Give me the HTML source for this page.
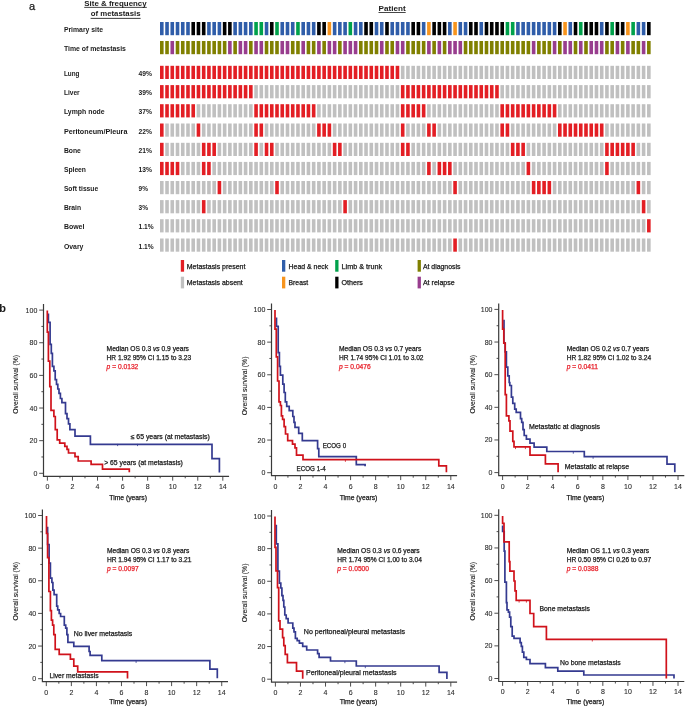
<!DOCTYPE html>
<html><head><meta charset="utf-8"><style>
html,body{margin:0;padding:0;background:#fff;}
svg{display:block;font-family:"Liberation Sans",sans-serif;will-change:transform;}
</style></head><body>
<svg width="685" height="706" viewBox="0 0 685 706">
<rect width="685" height="706" fill="#fff"/>
<g shape-rendering="auto"><rect x="160.00" y="22.00" width="3.6" height="13.2" fill="#2f5da9"/><rect x="165.24" y="22.00" width="3.6" height="13.2" fill="#2f5da9"/><rect x="170.47" y="22.00" width="3.6" height="13.2" fill="#2f5da9"/><rect x="175.71" y="22.00" width="3.6" height="13.2" fill="#2f5da9"/><rect x="180.95" y="22.00" width="3.6" height="13.2" fill="#2f5da9"/><rect x="186.19" y="22.00" width="3.6" height="13.2" fill="#2f5da9"/><rect x="191.42" y="22.00" width="3.6" height="13.2" fill="#000000"/><rect x="196.66" y="22.00" width="3.6" height="13.2" fill="#000000"/><rect x="201.90" y="22.00" width="3.6" height="13.2" fill="#000000"/><rect x="207.13" y="22.00" width="3.6" height="13.2" fill="#2f5da9"/><rect x="212.37" y="22.00" width="3.6" height="13.2" fill="#2f5da9"/><rect x="217.61" y="22.00" width="3.6" height="13.2" fill="#2f5da9"/><rect x="222.84" y="22.00" width="3.6" height="13.2" fill="#000000"/><rect x="228.08" y="22.00" width="3.6" height="13.2" fill="#000000"/><rect x="233.32" y="22.00" width="3.6" height="13.2" fill="#2f5da9"/><rect x="238.56" y="22.00" width="3.6" height="13.2" fill="#2f5da9"/><rect x="243.79" y="22.00" width="3.6" height="13.2" fill="#2f5da9"/><rect x="249.03" y="22.00" width="3.6" height="13.2" fill="#2f5da9"/><rect x="254.27" y="22.00" width="3.6" height="13.2" fill="#00a14b"/><rect x="259.50" y="22.00" width="3.6" height="13.2" fill="#00a14b"/><rect x="264.74" y="22.00" width="3.6" height="13.2" fill="#2f5da9"/><rect x="269.98" y="22.00" width="3.6" height="13.2" fill="#000000"/><rect x="275.21" y="22.00" width="3.6" height="13.2" fill="#00a14b"/><rect x="280.45" y="22.00" width="3.6" height="13.2" fill="#2f5da9"/><rect x="285.69" y="22.00" width="3.6" height="13.2" fill="#2f5da9"/><rect x="290.93" y="22.00" width="3.6" height="13.2" fill="#2f5da9"/><rect x="296.16" y="22.00" width="3.6" height="13.2" fill="#00a14b"/><rect x="301.40" y="22.00" width="3.6" height="13.2" fill="#2f5da9"/><rect x="306.64" y="22.00" width="3.6" height="13.2" fill="#2f5da9"/><rect x="311.87" y="22.00" width="3.6" height="13.2" fill="#2f5da9"/><rect x="317.11" y="22.00" width="3.6" height="13.2" fill="#000000"/><rect x="322.35" y="22.00" width="3.6" height="13.2" fill="#000000"/><rect x="327.58" y="22.00" width="3.6" height="13.2" fill="#f7941d"/><rect x="332.82" y="22.00" width="3.6" height="13.2" fill="#2f5da9"/><rect x="338.06" y="22.00" width="3.6" height="13.2" fill="#2f5da9"/><rect x="343.30" y="22.00" width="3.6" height="13.2" fill="#2f5da9"/><rect x="348.53" y="22.00" width="3.6" height="13.2" fill="#00a14b"/><rect x="353.77" y="22.00" width="3.6" height="13.2" fill="#2f5da9"/><rect x="359.01" y="22.00" width="3.6" height="13.2" fill="#2f5da9"/><rect x="364.24" y="22.00" width="3.6" height="13.2" fill="#000000"/><rect x="369.48" y="22.00" width="3.6" height="13.2" fill="#000000"/><rect x="374.72" y="22.00" width="3.6" height="13.2" fill="#2f5da9"/><rect x="379.95" y="22.00" width="3.6" height="13.2" fill="#2f5da9"/><rect x="385.19" y="22.00" width="3.6" height="13.2" fill="#000000"/><rect x="390.43" y="22.00" width="3.6" height="13.2" fill="#2f5da9"/><rect x="395.66" y="22.00" width="3.6" height="13.2" fill="#2f5da9"/><rect x="400.90" y="22.00" width="3.6" height="13.2" fill="#2f5da9"/><rect x="406.14" y="22.00" width="3.6" height="13.2" fill="#2f5da9"/><rect x="411.38" y="22.00" width="3.6" height="13.2" fill="#000000"/><rect x="416.61" y="22.00" width="3.6" height="13.2" fill="#000000"/><rect x="421.85" y="22.00" width="3.6" height="13.2" fill="#2f5da9"/><rect x="427.09" y="22.00" width="3.6" height="13.2" fill="#f7941d"/><rect x="432.32" y="22.00" width="3.6" height="13.2" fill="#000000"/><rect x="437.56" y="22.00" width="3.6" height="13.2" fill="#000000"/><rect x="442.80" y="22.00" width="3.6" height="13.2" fill="#000000"/><rect x="448.04" y="22.00" width="3.6" height="13.2" fill="#2f5da9"/><rect x="453.27" y="22.00" width="3.6" height="13.2" fill="#f7941d"/><rect x="458.51" y="22.00" width="3.6" height="13.2" fill="#2f5da9"/><rect x="463.75" y="22.00" width="3.6" height="13.2" fill="#2f5da9"/><rect x="468.98" y="22.00" width="3.6" height="13.2" fill="#000000"/><rect x="474.22" y="22.00" width="3.6" height="13.2" fill="#000000"/><rect x="479.46" y="22.00" width="3.6" height="13.2" fill="#2f5da9"/><rect x="484.69" y="22.00" width="3.6" height="13.2" fill="#000000"/><rect x="489.93" y="22.00" width="3.6" height="13.2" fill="#000000"/><rect x="495.17" y="22.00" width="3.6" height="13.2" fill="#000000"/><rect x="500.41" y="22.00" width="3.6" height="13.2" fill="#000000"/><rect x="505.64" y="22.00" width="3.6" height="13.2" fill="#00a14b"/><rect x="510.88" y="22.00" width="3.6" height="13.2" fill="#00a14b"/><rect x="516.12" y="22.00" width="3.6" height="13.2" fill="#2f5da9"/><rect x="521.35" y="22.00" width="3.6" height="13.2" fill="#2f5da9"/><rect x="526.59" y="22.00" width="3.6" height="13.2" fill="#2f5da9"/><rect x="531.83" y="22.00" width="3.6" height="13.2" fill="#2f5da9"/><rect x="537.06" y="22.00" width="3.6" height="13.2" fill="#2f5da9"/><rect x="542.30" y="22.00" width="3.6" height="13.2" fill="#2f5da9"/><rect x="547.54" y="22.00" width="3.6" height="13.2" fill="#2f5da9"/><rect x="552.78" y="22.00" width="3.6" height="13.2" fill="#2f5da9"/><rect x="558.01" y="22.00" width="3.6" height="13.2" fill="#000000"/><rect x="563.25" y="22.00" width="3.6" height="13.2" fill="#f7941d"/><rect x="568.49" y="22.00" width="3.6" height="13.2" fill="#2f5da9"/><rect x="573.72" y="22.00" width="3.6" height="13.2" fill="#000000"/><rect x="578.96" y="22.00" width="3.6" height="13.2" fill="#00a14b"/><rect x="584.20" y="22.00" width="3.6" height="13.2" fill="#000000"/><rect x="589.43" y="22.00" width="3.6" height="13.2" fill="#000000"/><rect x="594.67" y="22.00" width="3.6" height="13.2" fill="#000000"/><rect x="599.91" y="22.00" width="3.6" height="13.2" fill="#2f5da9"/><rect x="605.14" y="22.00" width="3.6" height="13.2" fill="#000000"/><rect x="610.38" y="22.00" width="3.6" height="13.2" fill="#00a14b"/><rect x="615.62" y="22.00" width="3.6" height="13.2" fill="#000000"/><rect x="620.86" y="22.00" width="3.6" height="13.2" fill="#000000"/><rect x="626.09" y="22.00" width="3.6" height="13.2" fill="#f7941d"/><rect x="631.33" y="22.00" width="3.6" height="13.2" fill="#00a14b"/><rect x="636.57" y="22.00" width="3.6" height="13.2" fill="#2f5da9"/><rect x="641.80" y="22.00" width="3.6" height="13.2" fill="#2f5da9"/><rect x="647.04" y="22.00" width="3.6" height="13.2" fill="#000000"/><rect x="160.00" y="41.00" width="3.6" height="13.2" fill="#808000"/><rect x="165.24" y="41.00" width="3.6" height="13.2" fill="#808000"/><rect x="170.47" y="41.00" width="3.6" height="13.2" fill="#983d8e"/><rect x="175.71" y="41.00" width="3.6" height="13.2" fill="#808000"/><rect x="180.95" y="41.00" width="3.6" height="13.2" fill="#808000"/><rect x="186.19" y="41.00" width="3.6" height="13.2" fill="#808000"/><rect x="191.42" y="41.00" width="3.6" height="13.2" fill="#808000"/><rect x="196.66" y="41.00" width="3.6" height="13.2" fill="#808000"/><rect x="201.90" y="41.00" width="3.6" height="13.2" fill="#808000"/><rect x="207.13" y="41.00" width="3.6" height="13.2" fill="#808000"/><rect x="212.37" y="41.00" width="3.6" height="13.2" fill="#808000"/><rect x="217.61" y="41.00" width="3.6" height="13.2" fill="#808000"/><rect x="222.84" y="41.00" width="3.6" height="13.2" fill="#808000"/><rect x="228.08" y="41.00" width="3.6" height="13.2" fill="#983d8e"/><rect x="233.32" y="41.00" width="3.6" height="13.2" fill="#808000"/><rect x="238.56" y="41.00" width="3.6" height="13.2" fill="#983d8e"/><rect x="243.79" y="41.00" width="3.6" height="13.2" fill="#983d8e"/><rect x="249.03" y="41.00" width="3.6" height="13.2" fill="#808000"/><rect x="254.27" y="41.00" width="3.6" height="13.2" fill="#983d8e"/><rect x="259.50" y="41.00" width="3.6" height="13.2" fill="#983d8e"/><rect x="264.74" y="41.00" width="3.6" height="13.2" fill="#808000"/><rect x="269.98" y="41.00" width="3.6" height="13.2" fill="#808000"/><rect x="275.21" y="41.00" width="3.6" height="13.2" fill="#808000"/><rect x="280.45" y="41.00" width="3.6" height="13.2" fill="#983d8e"/><rect x="285.69" y="41.00" width="3.6" height="13.2" fill="#983d8e"/><rect x="290.93" y="41.00" width="3.6" height="13.2" fill="#808000"/><rect x="296.16" y="41.00" width="3.6" height="13.2" fill="#808000"/><rect x="301.40" y="41.00" width="3.6" height="13.2" fill="#983d8e"/><rect x="306.64" y="41.00" width="3.6" height="13.2" fill="#808000"/><rect x="311.87" y="41.00" width="3.6" height="13.2" fill="#808000"/><rect x="317.11" y="41.00" width="3.6" height="13.2" fill="#983d8e"/><rect x="322.35" y="41.00" width="3.6" height="13.2" fill="#808000"/><rect x="327.58" y="41.00" width="3.6" height="13.2" fill="#983d8e"/><rect x="332.82" y="41.00" width="3.6" height="13.2" fill="#983d8e"/><rect x="338.06" y="41.00" width="3.6" height="13.2" fill="#808000"/><rect x="343.30" y="41.00" width="3.6" height="13.2" fill="#983d8e"/><rect x="348.53" y="41.00" width="3.6" height="13.2" fill="#983d8e"/><rect x="353.77" y="41.00" width="3.6" height="13.2" fill="#983d8e"/><rect x="359.01" y="41.00" width="3.6" height="13.2" fill="#808000"/><rect x="364.24" y="41.00" width="3.6" height="13.2" fill="#808000"/><rect x="369.48" y="41.00" width="3.6" height="13.2" fill="#808000"/><rect x="374.72" y="41.00" width="3.6" height="13.2" fill="#808000"/><rect x="379.95" y="41.00" width="3.6" height="13.2" fill="#983d8e"/><rect x="385.19" y="41.00" width="3.6" height="13.2" fill="#808000"/><rect x="390.43" y="41.00" width="3.6" height="13.2" fill="#808000"/><rect x="395.66" y="41.00" width="3.6" height="13.2" fill="#983d8e"/><rect x="400.90" y="41.00" width="3.6" height="13.2" fill="#983d8e"/><rect x="406.14" y="41.00" width="3.6" height="13.2" fill="#808000"/><rect x="411.38" y="41.00" width="3.6" height="13.2" fill="#808000"/><rect x="416.61" y="41.00" width="3.6" height="13.2" fill="#808000"/><rect x="421.85" y="41.00" width="3.6" height="13.2" fill="#808000"/><rect x="427.09" y="41.00" width="3.6" height="13.2" fill="#983d8e"/><rect x="432.32" y="41.00" width="3.6" height="13.2" fill="#808000"/><rect x="437.56" y="41.00" width="3.6" height="13.2" fill="#983d8e"/><rect x="442.80" y="41.00" width="3.6" height="13.2" fill="#808000"/><rect x="448.04" y="41.00" width="3.6" height="13.2" fill="#983d8e"/><rect x="453.27" y="41.00" width="3.6" height="13.2" fill="#983d8e"/><rect x="458.51" y="41.00" width="3.6" height="13.2" fill="#983d8e"/><rect x="463.75" y="41.00" width="3.6" height="13.2" fill="#808000"/><rect x="468.98" y="41.00" width="3.6" height="13.2" fill="#808000"/><rect x="474.22" y="41.00" width="3.6" height="13.2" fill="#808000"/><rect x="479.46" y="41.00" width="3.6" height="13.2" fill="#808000"/><rect x="484.69" y="41.00" width="3.6" height="13.2" fill="#808000"/><rect x="489.93" y="41.00" width="3.6" height="13.2" fill="#808000"/><rect x="495.17" y="41.00" width="3.6" height="13.2" fill="#808000"/><rect x="500.41" y="41.00" width="3.6" height="13.2" fill="#808000"/><rect x="505.64" y="41.00" width="3.6" height="13.2" fill="#808000"/><rect x="510.88" y="41.00" width="3.6" height="13.2" fill="#808000"/><rect x="516.12" y="41.00" width="3.6" height="13.2" fill="#808000"/><rect x="521.35" y="41.00" width="3.6" height="13.2" fill="#808000"/><rect x="526.59" y="41.00" width="3.6" height="13.2" fill="#808000"/><rect x="531.83" y="41.00" width="3.6" height="13.2" fill="#983d8e"/><rect x="537.06" y="41.00" width="3.6" height="13.2" fill="#808000"/><rect x="542.30" y="41.00" width="3.6" height="13.2" fill="#808000"/><rect x="547.54" y="41.00" width="3.6" height="13.2" fill="#808000"/><rect x="552.78" y="41.00" width="3.6" height="13.2" fill="#983d8e"/><rect x="558.01" y="41.00" width="3.6" height="13.2" fill="#808000"/><rect x="563.25" y="41.00" width="3.6" height="13.2" fill="#983d8e"/><rect x="568.49" y="41.00" width="3.6" height="13.2" fill="#983d8e"/><rect x="573.72" y="41.00" width="3.6" height="13.2" fill="#808000"/><rect x="578.96" y="41.00" width="3.6" height="13.2" fill="#983d8e"/><rect x="584.20" y="41.00" width="3.6" height="13.2" fill="#808000"/><rect x="589.43" y="41.00" width="3.6" height="13.2" fill="#983d8e"/><rect x="594.67" y="41.00" width="3.6" height="13.2" fill="#983d8e"/><rect x="599.91" y="41.00" width="3.6" height="13.2" fill="#983d8e"/><rect x="605.14" y="41.00" width="3.6" height="13.2" fill="#808000"/><rect x="610.38" y="41.00" width="3.6" height="13.2" fill="#808000"/><rect x="615.62" y="41.00" width="3.6" height="13.2" fill="#983d8e"/><rect x="620.86" y="41.00" width="3.6" height="13.2" fill="#808000"/><rect x="626.09" y="41.00" width="3.6" height="13.2" fill="#983d8e"/><rect x="631.33" y="41.00" width="3.6" height="13.2" fill="#808000"/><rect x="636.57" y="41.00" width="3.6" height="13.2" fill="#808000"/><rect x="641.80" y="41.00" width="3.6" height="13.2" fill="#983d8e"/><rect x="647.04" y="41.00" width="3.6" height="13.2" fill="#808000"/><rect x="160.00" y="65.80" width="3.6" height="13.2" fill="#e31e24"/><rect x="165.24" y="65.80" width="3.6" height="13.2" fill="#e31e24"/><rect x="170.47" y="65.80" width="3.6" height="13.2" fill="#e31e24"/><rect x="175.71" y="65.80" width="3.6" height="13.2" fill="#e31e24"/><rect x="180.95" y="65.80" width="3.6" height="13.2" fill="#e31e24"/><rect x="186.19" y="65.80" width="3.6" height="13.2" fill="#e31e24"/><rect x="191.42" y="65.80" width="3.6" height="13.2" fill="#e31e24"/><rect x="196.66" y="65.80" width="3.6" height="13.2" fill="#e31e24"/><rect x="201.90" y="65.80" width="3.6" height="13.2" fill="#e31e24"/><rect x="207.13" y="65.80" width="3.6" height="13.2" fill="#e31e24"/><rect x="212.37" y="65.80" width="3.6" height="13.2" fill="#e31e24"/><rect x="217.61" y="65.80" width="3.6" height="13.2" fill="#e31e24"/><rect x="222.84" y="65.80" width="3.6" height="13.2" fill="#e31e24"/><rect x="228.08" y="65.80" width="3.6" height="13.2" fill="#e31e24"/><rect x="233.32" y="65.80" width="3.6" height="13.2" fill="#e31e24"/><rect x="238.56" y="65.80" width="3.6" height="13.2" fill="#e31e24"/><rect x="243.79" y="65.80" width="3.6" height="13.2" fill="#e31e24"/><rect x="249.03" y="65.80" width="3.6" height="13.2" fill="#e31e24"/><rect x="254.27" y="65.80" width="3.6" height="13.2" fill="#e31e24"/><rect x="259.50" y="65.80" width="3.6" height="13.2" fill="#e31e24"/><rect x="264.74" y="65.80" width="3.6" height="13.2" fill="#e31e24"/><rect x="269.98" y="65.80" width="3.6" height="13.2" fill="#e31e24"/><rect x="275.21" y="65.80" width="3.6" height="13.2" fill="#e31e24"/><rect x="280.45" y="65.80" width="3.6" height="13.2" fill="#e31e24"/><rect x="285.69" y="65.80" width="3.6" height="13.2" fill="#e31e24"/><rect x="290.93" y="65.80" width="3.6" height="13.2" fill="#e31e24"/><rect x="296.16" y="65.80" width="3.6" height="13.2" fill="#e31e24"/><rect x="301.40" y="65.80" width="3.6" height="13.2" fill="#e31e24"/><rect x="306.64" y="65.80" width="3.6" height="13.2" fill="#e31e24"/><rect x="311.87" y="65.80" width="3.6" height="13.2" fill="#e31e24"/><rect x="317.11" y="65.80" width="3.6" height="13.2" fill="#e31e24"/><rect x="322.35" y="65.80" width="3.6" height="13.2" fill="#e31e24"/><rect x="327.58" y="65.80" width="3.6" height="13.2" fill="#e31e24"/><rect x="332.82" y="65.80" width="3.6" height="13.2" fill="#e31e24"/><rect x="338.06" y="65.80" width="3.6" height="13.2" fill="#e31e24"/><rect x="343.30" y="65.80" width="3.6" height="13.2" fill="#e31e24"/><rect x="348.53" y="65.80" width="3.6" height="13.2" fill="#e31e24"/><rect x="353.77" y="65.80" width="3.6" height="13.2" fill="#e31e24"/><rect x="359.01" y="65.80" width="3.6" height="13.2" fill="#e31e24"/><rect x="364.24" y="65.80" width="3.6" height="13.2" fill="#e31e24"/><rect x="369.48" y="65.80" width="3.6" height="13.2" fill="#e31e24"/><rect x="374.72" y="65.80" width="3.6" height="13.2" fill="#e31e24"/><rect x="379.95" y="65.80" width="3.6" height="13.2" fill="#e31e24"/><rect x="385.19" y="65.80" width="3.6" height="13.2" fill="#e31e24"/><rect x="390.43" y="65.80" width="3.6" height="13.2" fill="#e31e24"/><rect x="395.66" y="65.80" width="3.6" height="13.2" fill="#e31e24"/><rect x="400.90" y="65.80" width="3.6" height="13.2" fill="#c0c0c0"/><rect x="406.14" y="65.80" width="3.6" height="13.2" fill="#c0c0c0"/><rect x="411.38" y="65.80" width="3.6" height="13.2" fill="#c0c0c0"/><rect x="416.61" y="65.80" width="3.6" height="13.2" fill="#c0c0c0"/><rect x="421.85" y="65.80" width="3.6" height="13.2" fill="#c0c0c0"/><rect x="427.09" y="65.80" width="3.6" height="13.2" fill="#c0c0c0"/><rect x="432.32" y="65.80" width="3.6" height="13.2" fill="#c0c0c0"/><rect x="437.56" y="65.80" width="3.6" height="13.2" fill="#c0c0c0"/><rect x="442.80" y="65.80" width="3.6" height="13.2" fill="#c0c0c0"/><rect x="448.04" y="65.80" width="3.6" height="13.2" fill="#c0c0c0"/><rect x="453.27" y="65.80" width="3.6" height="13.2" fill="#c0c0c0"/><rect x="458.51" y="65.80" width="3.6" height="13.2" fill="#c0c0c0"/><rect x="463.75" y="65.80" width="3.6" height="13.2" fill="#c0c0c0"/><rect x="468.98" y="65.80" width="3.6" height="13.2" fill="#c0c0c0"/><rect x="474.22" y="65.80" width="3.6" height="13.2" fill="#c0c0c0"/><rect x="479.46" y="65.80" width="3.6" height="13.2" fill="#c0c0c0"/><rect x="484.69" y="65.80" width="3.6" height="13.2" fill="#c0c0c0"/><rect x="489.93" y="65.80" width="3.6" height="13.2" fill="#c0c0c0"/><rect x="495.17" y="65.80" width="3.6" height="13.2" fill="#c0c0c0"/><rect x="500.41" y="65.80" width="3.6" height="13.2" fill="#c0c0c0"/><rect x="505.64" y="65.80" width="3.6" height="13.2" fill="#c0c0c0"/><rect x="510.88" y="65.80" width="3.6" height="13.2" fill="#c0c0c0"/><rect x="516.12" y="65.80" width="3.6" height="13.2" fill="#c0c0c0"/><rect x="521.35" y="65.80" width="3.6" height="13.2" fill="#c0c0c0"/><rect x="526.59" y="65.80" width="3.6" height="13.2" fill="#c0c0c0"/><rect x="531.83" y="65.80" width="3.6" height="13.2" fill="#c0c0c0"/><rect x="537.06" y="65.80" width="3.6" height="13.2" fill="#c0c0c0"/><rect x="542.30" y="65.80" width="3.6" height="13.2" fill="#c0c0c0"/><rect x="547.54" y="65.80" width="3.6" height="13.2" fill="#c0c0c0"/><rect x="552.78" y="65.80" width="3.6" height="13.2" fill="#c0c0c0"/><rect x="558.01" y="65.80" width="3.6" height="13.2" fill="#c0c0c0"/><rect x="563.25" y="65.80" width="3.6" height="13.2" fill="#c0c0c0"/><rect x="568.49" y="65.80" width="3.6" height="13.2" fill="#c0c0c0"/><rect x="573.72" y="65.80" width="3.6" height="13.2" fill="#c0c0c0"/><rect x="578.96" y="65.80" width="3.6" height="13.2" fill="#c0c0c0"/><rect x="584.20" y="65.80" width="3.6" height="13.2" fill="#c0c0c0"/><rect x="589.43" y="65.80" width="3.6" height="13.2" fill="#c0c0c0"/><rect x="594.67" y="65.80" width="3.6" height="13.2" fill="#c0c0c0"/><rect x="599.91" y="65.80" width="3.6" height="13.2" fill="#c0c0c0"/><rect x="605.14" y="65.80" width="3.6" height="13.2" fill="#c0c0c0"/><rect x="610.38" y="65.80" width="3.6" height="13.2" fill="#c0c0c0"/><rect x="615.62" y="65.80" width="3.6" height="13.2" fill="#c0c0c0"/><rect x="620.86" y="65.80" width="3.6" height="13.2" fill="#c0c0c0"/><rect x="626.09" y="65.80" width="3.6" height="13.2" fill="#c0c0c0"/><rect x="631.33" y="65.80" width="3.6" height="13.2" fill="#c0c0c0"/><rect x="636.57" y="65.80" width="3.6" height="13.2" fill="#c0c0c0"/><rect x="641.80" y="65.80" width="3.6" height="13.2" fill="#c0c0c0"/><rect x="647.04" y="65.80" width="3.6" height="13.2" fill="#c0c0c0"/><rect x="160.00" y="85.10" width="3.6" height="13.2" fill="#e31e24"/><rect x="165.24" y="85.10" width="3.6" height="13.2" fill="#e31e24"/><rect x="170.47" y="85.10" width="3.6" height="13.2" fill="#e31e24"/><rect x="175.71" y="85.10" width="3.6" height="13.2" fill="#e31e24"/><rect x="180.95" y="85.10" width="3.6" height="13.2" fill="#e31e24"/><rect x="186.19" y="85.10" width="3.6" height="13.2" fill="#e31e24"/><rect x="191.42" y="85.10" width="3.6" height="13.2" fill="#e31e24"/><rect x="196.66" y="85.10" width="3.6" height="13.2" fill="#e31e24"/><rect x="201.90" y="85.10" width="3.6" height="13.2" fill="#e31e24"/><rect x="207.13" y="85.10" width="3.6" height="13.2" fill="#e31e24"/><rect x="212.37" y="85.10" width="3.6" height="13.2" fill="#e31e24"/><rect x="217.61" y="85.10" width="3.6" height="13.2" fill="#e31e24"/><rect x="222.84" y="85.10" width="3.6" height="13.2" fill="#e31e24"/><rect x="228.08" y="85.10" width="3.6" height="13.2" fill="#e31e24"/><rect x="233.32" y="85.10" width="3.6" height="13.2" fill="#e31e24"/><rect x="238.56" y="85.10" width="3.6" height="13.2" fill="#e31e24"/><rect x="243.79" y="85.10" width="3.6" height="13.2" fill="#e31e24"/><rect x="249.03" y="85.10" width="3.6" height="13.2" fill="#e31e24"/><rect x="254.27" y="85.10" width="3.6" height="13.2" fill="#c0c0c0"/><rect x="259.50" y="85.10" width="3.6" height="13.2" fill="#c0c0c0"/><rect x="264.74" y="85.10" width="3.6" height="13.2" fill="#c0c0c0"/><rect x="269.98" y="85.10" width="3.6" height="13.2" fill="#c0c0c0"/><rect x="275.21" y="85.10" width="3.6" height="13.2" fill="#c0c0c0"/><rect x="280.45" y="85.10" width="3.6" height="13.2" fill="#c0c0c0"/><rect x="285.69" y="85.10" width="3.6" height="13.2" fill="#c0c0c0"/><rect x="290.93" y="85.10" width="3.6" height="13.2" fill="#c0c0c0"/><rect x="296.16" y="85.10" width="3.6" height="13.2" fill="#c0c0c0"/><rect x="301.40" y="85.10" width="3.6" height="13.2" fill="#c0c0c0"/><rect x="306.64" y="85.10" width="3.6" height="13.2" fill="#c0c0c0"/><rect x="311.87" y="85.10" width="3.6" height="13.2" fill="#c0c0c0"/><rect x="317.11" y="85.10" width="3.6" height="13.2" fill="#c0c0c0"/><rect x="322.35" y="85.10" width="3.6" height="13.2" fill="#c0c0c0"/><rect x="327.58" y="85.10" width="3.6" height="13.2" fill="#c0c0c0"/><rect x="332.82" y="85.10" width="3.6" height="13.2" fill="#c0c0c0"/><rect x="338.06" y="85.10" width="3.6" height="13.2" fill="#c0c0c0"/><rect x="343.30" y="85.10" width="3.6" height="13.2" fill="#c0c0c0"/><rect x="348.53" y="85.10" width="3.6" height="13.2" fill="#c0c0c0"/><rect x="353.77" y="85.10" width="3.6" height="13.2" fill="#c0c0c0"/><rect x="359.01" y="85.10" width="3.6" height="13.2" fill="#c0c0c0"/><rect x="364.24" y="85.10" width="3.6" height="13.2" fill="#c0c0c0"/><rect x="369.48" y="85.10" width="3.6" height="13.2" fill="#c0c0c0"/><rect x="374.72" y="85.10" width="3.6" height="13.2" fill="#c0c0c0"/><rect x="379.95" y="85.10" width="3.6" height="13.2" fill="#c0c0c0"/><rect x="385.19" y="85.10" width="3.6" height="13.2" fill="#c0c0c0"/><rect x="390.43" y="85.10" width="3.6" height="13.2" fill="#c0c0c0"/><rect x="395.66" y="85.10" width="3.6" height="13.2" fill="#c0c0c0"/><rect x="400.90" y="85.10" width="3.6" height="13.2" fill="#e31e24"/><rect x="406.14" y="85.10" width="3.6" height="13.2" fill="#e31e24"/><rect x="411.38" y="85.10" width="3.6" height="13.2" fill="#e31e24"/><rect x="416.61" y="85.10" width="3.6" height="13.2" fill="#e31e24"/><rect x="421.85" y="85.10" width="3.6" height="13.2" fill="#e31e24"/><rect x="427.09" y="85.10" width="3.6" height="13.2" fill="#e31e24"/><rect x="432.32" y="85.10" width="3.6" height="13.2" fill="#e31e24"/><rect x="437.56" y="85.10" width="3.6" height="13.2" fill="#e31e24"/><rect x="442.80" y="85.10" width="3.6" height="13.2" fill="#e31e24"/><rect x="448.04" y="85.10" width="3.6" height="13.2" fill="#e31e24"/><rect x="453.27" y="85.10" width="3.6" height="13.2" fill="#e31e24"/><rect x="458.51" y="85.10" width="3.6" height="13.2" fill="#e31e24"/><rect x="463.75" y="85.10" width="3.6" height="13.2" fill="#e31e24"/><rect x="468.98" y="85.10" width="3.6" height="13.2" fill="#e31e24"/><rect x="474.22" y="85.10" width="3.6" height="13.2" fill="#e31e24"/><rect x="479.46" y="85.10" width="3.6" height="13.2" fill="#e31e24"/><rect x="484.69" y="85.10" width="3.6" height="13.2" fill="#e31e24"/><rect x="489.93" y="85.10" width="3.6" height="13.2" fill="#e31e24"/><rect x="495.17" y="85.10" width="3.6" height="13.2" fill="#e31e24"/><rect x="500.41" y="85.10" width="3.6" height="13.2" fill="#c0c0c0"/><rect x="505.64" y="85.10" width="3.6" height="13.2" fill="#c0c0c0"/><rect x="510.88" y="85.10" width="3.6" height="13.2" fill="#c0c0c0"/><rect x="516.12" y="85.10" width="3.6" height="13.2" fill="#c0c0c0"/><rect x="521.35" y="85.10" width="3.6" height="13.2" fill="#c0c0c0"/><rect x="526.59" y="85.10" width="3.6" height="13.2" fill="#c0c0c0"/><rect x="531.83" y="85.10" width="3.6" height="13.2" fill="#c0c0c0"/><rect x="537.06" y="85.10" width="3.6" height="13.2" fill="#c0c0c0"/><rect x="542.30" y="85.10" width="3.6" height="13.2" fill="#c0c0c0"/><rect x="547.54" y="85.10" width="3.6" height="13.2" fill="#c0c0c0"/><rect x="552.78" y="85.10" width="3.6" height="13.2" fill="#c0c0c0"/><rect x="558.01" y="85.10" width="3.6" height="13.2" fill="#c0c0c0"/><rect x="563.25" y="85.10" width="3.6" height="13.2" fill="#c0c0c0"/><rect x="568.49" y="85.10" width="3.6" height="13.2" fill="#c0c0c0"/><rect x="573.72" y="85.10" width="3.6" height="13.2" fill="#c0c0c0"/><rect x="578.96" y="85.10" width="3.6" height="13.2" fill="#c0c0c0"/><rect x="584.20" y="85.10" width="3.6" height="13.2" fill="#c0c0c0"/><rect x="589.43" y="85.10" width="3.6" height="13.2" fill="#c0c0c0"/><rect x="594.67" y="85.10" width="3.6" height="13.2" fill="#c0c0c0"/><rect x="599.91" y="85.10" width="3.6" height="13.2" fill="#c0c0c0"/><rect x="605.14" y="85.10" width="3.6" height="13.2" fill="#c0c0c0"/><rect x="610.38" y="85.10" width="3.6" height="13.2" fill="#c0c0c0"/><rect x="615.62" y="85.10" width="3.6" height="13.2" fill="#c0c0c0"/><rect x="620.86" y="85.10" width="3.6" height="13.2" fill="#c0c0c0"/><rect x="626.09" y="85.10" width="3.6" height="13.2" fill="#c0c0c0"/><rect x="631.33" y="85.10" width="3.6" height="13.2" fill="#c0c0c0"/><rect x="636.57" y="85.10" width="3.6" height="13.2" fill="#c0c0c0"/><rect x="641.80" y="85.10" width="3.6" height="13.2" fill="#c0c0c0"/><rect x="647.04" y="85.10" width="3.6" height="13.2" fill="#c0c0c0"/><rect x="160.00" y="104.20" width="3.6" height="13.2" fill="#e31e24"/><rect x="165.24" y="104.20" width="3.6" height="13.2" fill="#e31e24"/><rect x="170.47" y="104.20" width="3.6" height="13.2" fill="#e31e24"/><rect x="175.71" y="104.20" width="3.6" height="13.2" fill="#e31e24"/><rect x="180.95" y="104.20" width="3.6" height="13.2" fill="#e31e24"/><rect x="186.19" y="104.20" width="3.6" height="13.2" fill="#e31e24"/><rect x="191.42" y="104.20" width="3.6" height="13.2" fill="#e31e24"/><rect x="196.66" y="104.20" width="3.6" height="13.2" fill="#c0c0c0"/><rect x="201.90" y="104.20" width="3.6" height="13.2" fill="#c0c0c0"/><rect x="207.13" y="104.20" width="3.6" height="13.2" fill="#c0c0c0"/><rect x="212.37" y="104.20" width="3.6" height="13.2" fill="#c0c0c0"/><rect x="217.61" y="104.20" width="3.6" height="13.2" fill="#c0c0c0"/><rect x="222.84" y="104.20" width="3.6" height="13.2" fill="#c0c0c0"/><rect x="228.08" y="104.20" width="3.6" height="13.2" fill="#c0c0c0"/><rect x="233.32" y="104.20" width="3.6" height="13.2" fill="#c0c0c0"/><rect x="238.56" y="104.20" width="3.6" height="13.2" fill="#c0c0c0"/><rect x="243.79" y="104.20" width="3.6" height="13.2" fill="#c0c0c0"/><rect x="249.03" y="104.20" width="3.6" height="13.2" fill="#c0c0c0"/><rect x="254.27" y="104.20" width="3.6" height="13.2" fill="#e31e24"/><rect x="259.50" y="104.20" width="3.6" height="13.2" fill="#e31e24"/><rect x="264.74" y="104.20" width="3.6" height="13.2" fill="#e31e24"/><rect x="269.98" y="104.20" width="3.6" height="13.2" fill="#e31e24"/><rect x="275.21" y="104.20" width="3.6" height="13.2" fill="#e31e24"/><rect x="280.45" y="104.20" width="3.6" height="13.2" fill="#e31e24"/><rect x="285.69" y="104.20" width="3.6" height="13.2" fill="#e31e24"/><rect x="290.93" y="104.20" width="3.6" height="13.2" fill="#e31e24"/><rect x="296.16" y="104.20" width="3.6" height="13.2" fill="#e31e24"/><rect x="301.40" y="104.20" width="3.6" height="13.2" fill="#e31e24"/><rect x="306.64" y="104.20" width="3.6" height="13.2" fill="#e31e24"/><rect x="311.87" y="104.20" width="3.6" height="13.2" fill="#e31e24"/><rect x="317.11" y="104.20" width="3.6" height="13.2" fill="#c0c0c0"/><rect x="322.35" y="104.20" width="3.6" height="13.2" fill="#c0c0c0"/><rect x="327.58" y="104.20" width="3.6" height="13.2" fill="#c0c0c0"/><rect x="332.82" y="104.20" width="3.6" height="13.2" fill="#c0c0c0"/><rect x="338.06" y="104.20" width="3.6" height="13.2" fill="#c0c0c0"/><rect x="343.30" y="104.20" width="3.6" height="13.2" fill="#c0c0c0"/><rect x="348.53" y="104.20" width="3.6" height="13.2" fill="#c0c0c0"/><rect x="353.77" y="104.20" width="3.6" height="13.2" fill="#c0c0c0"/><rect x="359.01" y="104.20" width="3.6" height="13.2" fill="#c0c0c0"/><rect x="364.24" y="104.20" width="3.6" height="13.2" fill="#c0c0c0"/><rect x="369.48" y="104.20" width="3.6" height="13.2" fill="#c0c0c0"/><rect x="374.72" y="104.20" width="3.6" height="13.2" fill="#c0c0c0"/><rect x="379.95" y="104.20" width="3.6" height="13.2" fill="#c0c0c0"/><rect x="385.19" y="104.20" width="3.6" height="13.2" fill="#c0c0c0"/><rect x="390.43" y="104.20" width="3.6" height="13.2" fill="#c0c0c0"/><rect x="395.66" y="104.20" width="3.6" height="13.2" fill="#c0c0c0"/><rect x="400.90" y="104.20" width="3.6" height="13.2" fill="#e31e24"/><rect x="406.14" y="104.20" width="3.6" height="13.2" fill="#e31e24"/><rect x="411.38" y="104.20" width="3.6" height="13.2" fill="#e31e24"/><rect x="416.61" y="104.20" width="3.6" height="13.2" fill="#e31e24"/><rect x="421.85" y="104.20" width="3.6" height="13.2" fill="#e31e24"/><rect x="427.09" y="104.20" width="3.6" height="13.2" fill="#c0c0c0"/><rect x="432.32" y="104.20" width="3.6" height="13.2" fill="#c0c0c0"/><rect x="437.56" y="104.20" width="3.6" height="13.2" fill="#c0c0c0"/><rect x="442.80" y="104.20" width="3.6" height="13.2" fill="#c0c0c0"/><rect x="448.04" y="104.20" width="3.6" height="13.2" fill="#c0c0c0"/><rect x="453.27" y="104.20" width="3.6" height="13.2" fill="#c0c0c0"/><rect x="458.51" y="104.20" width="3.6" height="13.2" fill="#c0c0c0"/><rect x="463.75" y="104.20" width="3.6" height="13.2" fill="#c0c0c0"/><rect x="468.98" y="104.20" width="3.6" height="13.2" fill="#c0c0c0"/><rect x="474.22" y="104.20" width="3.6" height="13.2" fill="#c0c0c0"/><rect x="479.46" y="104.20" width="3.6" height="13.2" fill="#c0c0c0"/><rect x="484.69" y="104.20" width="3.6" height="13.2" fill="#c0c0c0"/><rect x="489.93" y="104.20" width="3.6" height="13.2" fill="#c0c0c0"/><rect x="495.17" y="104.20" width="3.6" height="13.2" fill="#c0c0c0"/><rect x="500.41" y="104.20" width="3.6" height="13.2" fill="#e31e24"/><rect x="505.64" y="104.20" width="3.6" height="13.2" fill="#e31e24"/><rect x="510.88" y="104.20" width="3.6" height="13.2" fill="#e31e24"/><rect x="516.12" y="104.20" width="3.6" height="13.2" fill="#e31e24"/><rect x="521.35" y="104.20" width="3.6" height="13.2" fill="#e31e24"/><rect x="526.59" y="104.20" width="3.6" height="13.2" fill="#e31e24"/><rect x="531.83" y="104.20" width="3.6" height="13.2" fill="#e31e24"/><rect x="537.06" y="104.20" width="3.6" height="13.2" fill="#e31e24"/><rect x="542.30" y="104.20" width="3.6" height="13.2" fill="#e31e24"/><rect x="547.54" y="104.20" width="3.6" height="13.2" fill="#e31e24"/><rect x="552.78" y="104.20" width="3.6" height="13.2" fill="#e31e24"/><rect x="558.01" y="104.20" width="3.6" height="13.2" fill="#c0c0c0"/><rect x="563.25" y="104.20" width="3.6" height="13.2" fill="#c0c0c0"/><rect x="568.49" y="104.20" width="3.6" height="13.2" fill="#c0c0c0"/><rect x="573.72" y="104.20" width="3.6" height="13.2" fill="#c0c0c0"/><rect x="578.96" y="104.20" width="3.6" height="13.2" fill="#c0c0c0"/><rect x="584.20" y="104.20" width="3.6" height="13.2" fill="#c0c0c0"/><rect x="589.43" y="104.20" width="3.6" height="13.2" fill="#c0c0c0"/><rect x="594.67" y="104.20" width="3.6" height="13.2" fill="#c0c0c0"/><rect x="599.91" y="104.20" width="3.6" height="13.2" fill="#c0c0c0"/><rect x="605.14" y="104.20" width="3.6" height="13.2" fill="#c0c0c0"/><rect x="610.38" y="104.20" width="3.6" height="13.2" fill="#c0c0c0"/><rect x="615.62" y="104.20" width="3.6" height="13.2" fill="#c0c0c0"/><rect x="620.86" y="104.20" width="3.6" height="13.2" fill="#c0c0c0"/><rect x="626.09" y="104.20" width="3.6" height="13.2" fill="#c0c0c0"/><rect x="631.33" y="104.20" width="3.6" height="13.2" fill="#c0c0c0"/><rect x="636.57" y="104.20" width="3.6" height="13.2" fill="#c0c0c0"/><rect x="641.80" y="104.20" width="3.6" height="13.2" fill="#c0c0c0"/><rect x="647.04" y="104.20" width="3.6" height="13.2" fill="#c0c0c0"/><rect x="160.00" y="123.50" width="3.6" height="13.2" fill="#e31e24"/><rect x="165.24" y="123.50" width="3.6" height="13.2" fill="#c0c0c0"/><rect x="170.47" y="123.50" width="3.6" height="13.2" fill="#c0c0c0"/><rect x="175.71" y="123.50" width="3.6" height="13.2" fill="#c0c0c0"/><rect x="180.95" y="123.50" width="3.6" height="13.2" fill="#c0c0c0"/><rect x="186.19" y="123.50" width="3.6" height="13.2" fill="#c0c0c0"/><rect x="191.42" y="123.50" width="3.6" height="13.2" fill="#c0c0c0"/><rect x="196.66" y="123.50" width="3.6" height="13.2" fill="#e31e24"/><rect x="201.90" y="123.50" width="3.6" height="13.2" fill="#c0c0c0"/><rect x="207.13" y="123.50" width="3.6" height="13.2" fill="#c0c0c0"/><rect x="212.37" y="123.50" width="3.6" height="13.2" fill="#c0c0c0"/><rect x="217.61" y="123.50" width="3.6" height="13.2" fill="#c0c0c0"/><rect x="222.84" y="123.50" width="3.6" height="13.2" fill="#c0c0c0"/><rect x="228.08" y="123.50" width="3.6" height="13.2" fill="#c0c0c0"/><rect x="233.32" y="123.50" width="3.6" height="13.2" fill="#c0c0c0"/><rect x="238.56" y="123.50" width="3.6" height="13.2" fill="#c0c0c0"/><rect x="243.79" y="123.50" width="3.6" height="13.2" fill="#c0c0c0"/><rect x="249.03" y="123.50" width="3.6" height="13.2" fill="#c0c0c0"/><rect x="254.27" y="123.50" width="3.6" height="13.2" fill="#e31e24"/><rect x="259.50" y="123.50" width="3.6" height="13.2" fill="#e31e24"/><rect x="264.74" y="123.50" width="3.6" height="13.2" fill="#c0c0c0"/><rect x="269.98" y="123.50" width="3.6" height="13.2" fill="#c0c0c0"/><rect x="275.21" y="123.50" width="3.6" height="13.2" fill="#c0c0c0"/><rect x="280.45" y="123.50" width="3.6" height="13.2" fill="#c0c0c0"/><rect x="285.69" y="123.50" width="3.6" height="13.2" fill="#c0c0c0"/><rect x="290.93" y="123.50" width="3.6" height="13.2" fill="#c0c0c0"/><rect x="296.16" y="123.50" width="3.6" height="13.2" fill="#c0c0c0"/><rect x="301.40" y="123.50" width="3.6" height="13.2" fill="#c0c0c0"/><rect x="306.64" y="123.50" width="3.6" height="13.2" fill="#c0c0c0"/><rect x="311.87" y="123.50" width="3.6" height="13.2" fill="#c0c0c0"/><rect x="317.11" y="123.50" width="3.6" height="13.2" fill="#e31e24"/><rect x="322.35" y="123.50" width="3.6" height="13.2" fill="#e31e24"/><rect x="327.58" y="123.50" width="3.6" height="13.2" fill="#e31e24"/><rect x="332.82" y="123.50" width="3.6" height="13.2" fill="#c0c0c0"/><rect x="338.06" y="123.50" width="3.6" height="13.2" fill="#c0c0c0"/><rect x="343.30" y="123.50" width="3.6" height="13.2" fill="#c0c0c0"/><rect x="348.53" y="123.50" width="3.6" height="13.2" fill="#c0c0c0"/><rect x="353.77" y="123.50" width="3.6" height="13.2" fill="#c0c0c0"/><rect x="359.01" y="123.50" width="3.6" height="13.2" fill="#c0c0c0"/><rect x="364.24" y="123.50" width="3.6" height="13.2" fill="#c0c0c0"/><rect x="369.48" y="123.50" width="3.6" height="13.2" fill="#c0c0c0"/><rect x="374.72" y="123.50" width="3.6" height="13.2" fill="#c0c0c0"/><rect x="379.95" y="123.50" width="3.6" height="13.2" fill="#c0c0c0"/><rect x="385.19" y="123.50" width="3.6" height="13.2" fill="#c0c0c0"/><rect x="390.43" y="123.50" width="3.6" height="13.2" fill="#c0c0c0"/><rect x="395.66" y="123.50" width="3.6" height="13.2" fill="#c0c0c0"/><rect x="400.90" y="123.50" width="3.6" height="13.2" fill="#e31e24"/><rect x="406.14" y="123.50" width="3.6" height="13.2" fill="#c0c0c0"/><rect x="411.38" y="123.50" width="3.6" height="13.2" fill="#c0c0c0"/><rect x="416.61" y="123.50" width="3.6" height="13.2" fill="#c0c0c0"/><rect x="421.85" y="123.50" width="3.6" height="13.2" fill="#c0c0c0"/><rect x="427.09" y="123.50" width="3.6" height="13.2" fill="#e31e24"/><rect x="432.32" y="123.50" width="3.6" height="13.2" fill="#e31e24"/><rect x="437.56" y="123.50" width="3.6" height="13.2" fill="#c0c0c0"/><rect x="442.80" y="123.50" width="3.6" height="13.2" fill="#c0c0c0"/><rect x="448.04" y="123.50" width="3.6" height="13.2" fill="#c0c0c0"/><rect x="453.27" y="123.50" width="3.6" height="13.2" fill="#c0c0c0"/><rect x="458.51" y="123.50" width="3.6" height="13.2" fill="#c0c0c0"/><rect x="463.75" y="123.50" width="3.6" height="13.2" fill="#c0c0c0"/><rect x="468.98" y="123.50" width="3.6" height="13.2" fill="#c0c0c0"/><rect x="474.22" y="123.50" width="3.6" height="13.2" fill="#c0c0c0"/><rect x="479.46" y="123.50" width="3.6" height="13.2" fill="#c0c0c0"/><rect x="484.69" y="123.50" width="3.6" height="13.2" fill="#c0c0c0"/><rect x="489.93" y="123.50" width="3.6" height="13.2" fill="#c0c0c0"/><rect x="495.17" y="123.50" width="3.6" height="13.2" fill="#c0c0c0"/><rect x="500.41" y="123.50" width="3.6" height="13.2" fill="#e31e24"/><rect x="505.64" y="123.50" width="3.6" height="13.2" fill="#e31e24"/><rect x="510.88" y="123.50" width="3.6" height="13.2" fill="#c0c0c0"/><rect x="516.12" y="123.50" width="3.6" height="13.2" fill="#c0c0c0"/><rect x="521.35" y="123.50" width="3.6" height="13.2" fill="#c0c0c0"/><rect x="526.59" y="123.50" width="3.6" height="13.2" fill="#c0c0c0"/><rect x="531.83" y="123.50" width="3.6" height="13.2" fill="#c0c0c0"/><rect x="537.06" y="123.50" width="3.6" height="13.2" fill="#c0c0c0"/><rect x="542.30" y="123.50" width="3.6" height="13.2" fill="#c0c0c0"/><rect x="547.54" y="123.50" width="3.6" height="13.2" fill="#c0c0c0"/><rect x="552.78" y="123.50" width="3.6" height="13.2" fill="#c0c0c0"/><rect x="558.01" y="123.50" width="3.6" height="13.2" fill="#e31e24"/><rect x="563.25" y="123.50" width="3.6" height="13.2" fill="#e31e24"/><rect x="568.49" y="123.50" width="3.6" height="13.2" fill="#e31e24"/><rect x="573.72" y="123.50" width="3.6" height="13.2" fill="#e31e24"/><rect x="578.96" y="123.50" width="3.6" height="13.2" fill="#e31e24"/><rect x="584.20" y="123.50" width="3.6" height="13.2" fill="#e31e24"/><rect x="589.43" y="123.50" width="3.6" height="13.2" fill="#e31e24"/><rect x="594.67" y="123.50" width="3.6" height="13.2" fill="#e31e24"/><rect x="599.91" y="123.50" width="3.6" height="13.2" fill="#e31e24"/><rect x="605.14" y="123.50" width="3.6" height="13.2" fill="#c0c0c0"/><rect x="610.38" y="123.50" width="3.6" height="13.2" fill="#c0c0c0"/><rect x="615.62" y="123.50" width="3.6" height="13.2" fill="#c0c0c0"/><rect x="620.86" y="123.50" width="3.6" height="13.2" fill="#c0c0c0"/><rect x="626.09" y="123.50" width="3.6" height="13.2" fill="#c0c0c0"/><rect x="631.33" y="123.50" width="3.6" height="13.2" fill="#c0c0c0"/><rect x="636.57" y="123.50" width="3.6" height="13.2" fill="#c0c0c0"/><rect x="641.80" y="123.50" width="3.6" height="13.2" fill="#c0c0c0"/><rect x="647.04" y="123.50" width="3.6" height="13.2" fill="#c0c0c0"/><rect x="160.00" y="142.80" width="3.6" height="13.2" fill="#e31e24"/><rect x="165.24" y="142.80" width="3.6" height="13.2" fill="#c0c0c0"/><rect x="170.47" y="142.80" width="3.6" height="13.2" fill="#c0c0c0"/><rect x="175.71" y="142.80" width="3.6" height="13.2" fill="#c0c0c0"/><rect x="180.95" y="142.80" width="3.6" height="13.2" fill="#c0c0c0"/><rect x="186.19" y="142.80" width="3.6" height="13.2" fill="#c0c0c0"/><rect x="191.42" y="142.80" width="3.6" height="13.2" fill="#c0c0c0"/><rect x="196.66" y="142.80" width="3.6" height="13.2" fill="#c0c0c0"/><rect x="201.90" y="142.80" width="3.6" height="13.2" fill="#e31e24"/><rect x="207.13" y="142.80" width="3.6" height="13.2" fill="#e31e24"/><rect x="212.37" y="142.80" width="3.6" height="13.2" fill="#e31e24"/><rect x="217.61" y="142.80" width="3.6" height="13.2" fill="#c0c0c0"/><rect x="222.84" y="142.80" width="3.6" height="13.2" fill="#c0c0c0"/><rect x="228.08" y="142.80" width="3.6" height="13.2" fill="#c0c0c0"/><rect x="233.32" y="142.80" width="3.6" height="13.2" fill="#c0c0c0"/><rect x="238.56" y="142.80" width="3.6" height="13.2" fill="#c0c0c0"/><rect x="243.79" y="142.80" width="3.6" height="13.2" fill="#c0c0c0"/><rect x="249.03" y="142.80" width="3.6" height="13.2" fill="#c0c0c0"/><rect x="254.27" y="142.80" width="3.6" height="13.2" fill="#e31e24"/><rect x="259.50" y="142.80" width="3.6" height="13.2" fill="#c0c0c0"/><rect x="264.74" y="142.80" width="3.6" height="13.2" fill="#e31e24"/><rect x="269.98" y="142.80" width="3.6" height="13.2" fill="#e31e24"/><rect x="275.21" y="142.80" width="3.6" height="13.2" fill="#c0c0c0"/><rect x="280.45" y="142.80" width="3.6" height="13.2" fill="#c0c0c0"/><rect x="285.69" y="142.80" width="3.6" height="13.2" fill="#c0c0c0"/><rect x="290.93" y="142.80" width="3.6" height="13.2" fill="#c0c0c0"/><rect x="296.16" y="142.80" width="3.6" height="13.2" fill="#c0c0c0"/><rect x="301.40" y="142.80" width="3.6" height="13.2" fill="#c0c0c0"/><rect x="306.64" y="142.80" width="3.6" height="13.2" fill="#c0c0c0"/><rect x="311.87" y="142.80" width="3.6" height="13.2" fill="#c0c0c0"/><rect x="317.11" y="142.80" width="3.6" height="13.2" fill="#c0c0c0"/><rect x="322.35" y="142.80" width="3.6" height="13.2" fill="#c0c0c0"/><rect x="327.58" y="142.80" width="3.6" height="13.2" fill="#c0c0c0"/><rect x="332.82" y="142.80" width="3.6" height="13.2" fill="#e31e24"/><rect x="338.06" y="142.80" width="3.6" height="13.2" fill="#e31e24"/><rect x="343.30" y="142.80" width="3.6" height="13.2" fill="#c0c0c0"/><rect x="348.53" y="142.80" width="3.6" height="13.2" fill="#c0c0c0"/><rect x="353.77" y="142.80" width="3.6" height="13.2" fill="#c0c0c0"/><rect x="359.01" y="142.80" width="3.6" height="13.2" fill="#c0c0c0"/><rect x="364.24" y="142.80" width="3.6" height="13.2" fill="#c0c0c0"/><rect x="369.48" y="142.80" width="3.6" height="13.2" fill="#c0c0c0"/><rect x="374.72" y="142.80" width="3.6" height="13.2" fill="#c0c0c0"/><rect x="379.95" y="142.80" width="3.6" height="13.2" fill="#c0c0c0"/><rect x="385.19" y="142.80" width="3.6" height="13.2" fill="#c0c0c0"/><rect x="390.43" y="142.80" width="3.6" height="13.2" fill="#c0c0c0"/><rect x="395.66" y="142.80" width="3.6" height="13.2" fill="#c0c0c0"/><rect x="400.90" y="142.80" width="3.6" height="13.2" fill="#e31e24"/><rect x="406.14" y="142.80" width="3.6" height="13.2" fill="#e31e24"/><rect x="411.38" y="142.80" width="3.6" height="13.2" fill="#c0c0c0"/><rect x="416.61" y="142.80" width="3.6" height="13.2" fill="#c0c0c0"/><rect x="421.85" y="142.80" width="3.6" height="13.2" fill="#c0c0c0"/><rect x="427.09" y="142.80" width="3.6" height="13.2" fill="#c0c0c0"/><rect x="432.32" y="142.80" width="3.6" height="13.2" fill="#c0c0c0"/><rect x="437.56" y="142.80" width="3.6" height="13.2" fill="#c0c0c0"/><rect x="442.80" y="142.80" width="3.6" height="13.2" fill="#c0c0c0"/><rect x="448.04" y="142.80" width="3.6" height="13.2" fill="#c0c0c0"/><rect x="453.27" y="142.80" width="3.6" height="13.2" fill="#c0c0c0"/><rect x="458.51" y="142.80" width="3.6" height="13.2" fill="#c0c0c0"/><rect x="463.75" y="142.80" width="3.6" height="13.2" fill="#c0c0c0"/><rect x="468.98" y="142.80" width="3.6" height="13.2" fill="#c0c0c0"/><rect x="474.22" y="142.80" width="3.6" height="13.2" fill="#c0c0c0"/><rect x="479.46" y="142.80" width="3.6" height="13.2" fill="#c0c0c0"/><rect x="484.69" y="142.80" width="3.6" height="13.2" fill="#c0c0c0"/><rect x="489.93" y="142.80" width="3.6" height="13.2" fill="#c0c0c0"/><rect x="495.17" y="142.80" width="3.6" height="13.2" fill="#c0c0c0"/><rect x="500.41" y="142.80" width="3.6" height="13.2" fill="#c0c0c0"/><rect x="505.64" y="142.80" width="3.6" height="13.2" fill="#c0c0c0"/><rect x="510.88" y="142.80" width="3.6" height="13.2" fill="#e31e24"/><rect x="516.12" y="142.80" width="3.6" height="13.2" fill="#e31e24"/><rect x="521.35" y="142.80" width="3.6" height="13.2" fill="#e31e24"/><rect x="526.59" y="142.80" width="3.6" height="13.2" fill="#c0c0c0"/><rect x="531.83" y="142.80" width="3.6" height="13.2" fill="#c0c0c0"/><rect x="537.06" y="142.80" width="3.6" height="13.2" fill="#c0c0c0"/><rect x="542.30" y="142.80" width="3.6" height="13.2" fill="#c0c0c0"/><rect x="547.54" y="142.80" width="3.6" height="13.2" fill="#c0c0c0"/><rect x="552.78" y="142.80" width="3.6" height="13.2" fill="#c0c0c0"/><rect x="558.01" y="142.80" width="3.6" height="13.2" fill="#c0c0c0"/><rect x="563.25" y="142.80" width="3.6" height="13.2" fill="#c0c0c0"/><rect x="568.49" y="142.80" width="3.6" height="13.2" fill="#c0c0c0"/><rect x="573.72" y="142.80" width="3.6" height="13.2" fill="#c0c0c0"/><rect x="578.96" y="142.80" width="3.6" height="13.2" fill="#c0c0c0"/><rect x="584.20" y="142.80" width="3.6" height="13.2" fill="#c0c0c0"/><rect x="589.43" y="142.80" width="3.6" height="13.2" fill="#c0c0c0"/><rect x="594.67" y="142.80" width="3.6" height="13.2" fill="#c0c0c0"/><rect x="599.91" y="142.80" width="3.6" height="13.2" fill="#c0c0c0"/><rect x="605.14" y="142.80" width="3.6" height="13.2" fill="#e31e24"/><rect x="610.38" y="142.80" width="3.6" height="13.2" fill="#e31e24"/><rect x="615.62" y="142.80" width="3.6" height="13.2" fill="#e31e24"/><rect x="620.86" y="142.80" width="3.6" height="13.2" fill="#e31e24"/><rect x="626.09" y="142.80" width="3.6" height="13.2" fill="#e31e24"/><rect x="631.33" y="142.80" width="3.6" height="13.2" fill="#e31e24"/><rect x="636.57" y="142.80" width="3.6" height="13.2" fill="#c0c0c0"/><rect x="641.80" y="142.80" width="3.6" height="13.2" fill="#c0c0c0"/><rect x="647.04" y="142.80" width="3.6" height="13.2" fill="#c0c0c0"/><rect x="160.00" y="161.90" width="3.6" height="13.2" fill="#e31e24"/><rect x="165.24" y="161.90" width="3.6" height="13.2" fill="#e31e24"/><rect x="170.47" y="161.90" width="3.6" height="13.2" fill="#e31e24"/><rect x="175.71" y="161.90" width="3.6" height="13.2" fill="#e31e24"/><rect x="180.95" y="161.90" width="3.6" height="13.2" fill="#c0c0c0"/><rect x="186.19" y="161.90" width="3.6" height="13.2" fill="#c0c0c0"/><rect x="191.42" y="161.90" width="3.6" height="13.2" fill="#c0c0c0"/><rect x="196.66" y="161.90" width="3.6" height="13.2" fill="#c0c0c0"/><rect x="201.90" y="161.90" width="3.6" height="13.2" fill="#e31e24"/><rect x="207.13" y="161.90" width="3.6" height="13.2" fill="#e31e24"/><rect x="212.37" y="161.90" width="3.6" height="13.2" fill="#c0c0c0"/><rect x="217.61" y="161.90" width="3.6" height="13.2" fill="#c0c0c0"/><rect x="222.84" y="161.90" width="3.6" height="13.2" fill="#c0c0c0"/><rect x="228.08" y="161.90" width="3.6" height="13.2" fill="#c0c0c0"/><rect x="233.32" y="161.90" width="3.6" height="13.2" fill="#c0c0c0"/><rect x="238.56" y="161.90" width="3.6" height="13.2" fill="#c0c0c0"/><rect x="243.79" y="161.90" width="3.6" height="13.2" fill="#c0c0c0"/><rect x="249.03" y="161.90" width="3.6" height="13.2" fill="#c0c0c0"/><rect x="254.27" y="161.90" width="3.6" height="13.2" fill="#c0c0c0"/><rect x="259.50" y="161.90" width="3.6" height="13.2" fill="#c0c0c0"/><rect x="264.74" y="161.90" width="3.6" height="13.2" fill="#c0c0c0"/><rect x="269.98" y="161.90" width="3.6" height="13.2" fill="#c0c0c0"/><rect x="275.21" y="161.90" width="3.6" height="13.2" fill="#c0c0c0"/><rect x="280.45" y="161.90" width="3.6" height="13.2" fill="#c0c0c0"/><rect x="285.69" y="161.90" width="3.6" height="13.2" fill="#c0c0c0"/><rect x="290.93" y="161.90" width="3.6" height="13.2" fill="#c0c0c0"/><rect x="296.16" y="161.90" width="3.6" height="13.2" fill="#c0c0c0"/><rect x="301.40" y="161.90" width="3.6" height="13.2" fill="#c0c0c0"/><rect x="306.64" y="161.90" width="3.6" height="13.2" fill="#c0c0c0"/><rect x="311.87" y="161.90" width="3.6" height="13.2" fill="#c0c0c0"/><rect x="317.11" y="161.90" width="3.6" height="13.2" fill="#c0c0c0"/><rect x="322.35" y="161.90" width="3.6" height="13.2" fill="#c0c0c0"/><rect x="327.58" y="161.90" width="3.6" height="13.2" fill="#c0c0c0"/><rect x="332.82" y="161.90" width="3.6" height="13.2" fill="#c0c0c0"/><rect x="338.06" y="161.90" width="3.6" height="13.2" fill="#c0c0c0"/><rect x="343.30" y="161.90" width="3.6" height="13.2" fill="#c0c0c0"/><rect x="348.53" y="161.90" width="3.6" height="13.2" fill="#c0c0c0"/><rect x="353.77" y="161.90" width="3.6" height="13.2" fill="#c0c0c0"/><rect x="359.01" y="161.90" width="3.6" height="13.2" fill="#c0c0c0"/><rect x="364.24" y="161.90" width="3.6" height="13.2" fill="#c0c0c0"/><rect x="369.48" y="161.90" width="3.6" height="13.2" fill="#c0c0c0"/><rect x="374.72" y="161.90" width="3.6" height="13.2" fill="#c0c0c0"/><rect x="379.95" y="161.90" width="3.6" height="13.2" fill="#c0c0c0"/><rect x="385.19" y="161.90" width="3.6" height="13.2" fill="#c0c0c0"/><rect x="390.43" y="161.90" width="3.6" height="13.2" fill="#c0c0c0"/><rect x="395.66" y="161.90" width="3.6" height="13.2" fill="#c0c0c0"/><rect x="400.90" y="161.90" width="3.6" height="13.2" fill="#c0c0c0"/><rect x="406.14" y="161.90" width="3.6" height="13.2" fill="#c0c0c0"/><rect x="411.38" y="161.90" width="3.6" height="13.2" fill="#c0c0c0"/><rect x="416.61" y="161.90" width="3.6" height="13.2" fill="#c0c0c0"/><rect x="421.85" y="161.90" width="3.6" height="13.2" fill="#c0c0c0"/><rect x="427.09" y="161.90" width="3.6" height="13.2" fill="#e31e24"/><rect x="432.32" y="161.90" width="3.6" height="13.2" fill="#c0c0c0"/><rect x="437.56" y="161.90" width="3.6" height="13.2" fill="#e31e24"/><rect x="442.80" y="161.90" width="3.6" height="13.2" fill="#e31e24"/><rect x="448.04" y="161.90" width="3.6" height="13.2" fill="#e31e24"/><rect x="453.27" y="161.90" width="3.6" height="13.2" fill="#c0c0c0"/><rect x="458.51" y="161.90" width="3.6" height="13.2" fill="#c0c0c0"/><rect x="463.75" y="161.90" width="3.6" height="13.2" fill="#c0c0c0"/><rect x="468.98" y="161.90" width="3.6" height="13.2" fill="#c0c0c0"/><rect x="474.22" y="161.90" width="3.6" height="13.2" fill="#c0c0c0"/><rect x="479.46" y="161.90" width="3.6" height="13.2" fill="#c0c0c0"/><rect x="484.69" y="161.90" width="3.6" height="13.2" fill="#c0c0c0"/><rect x="489.93" y="161.90" width="3.6" height="13.2" fill="#c0c0c0"/><rect x="495.17" y="161.90" width="3.6" height="13.2" fill="#c0c0c0"/><rect x="500.41" y="161.90" width="3.6" height="13.2" fill="#c0c0c0"/><rect x="505.64" y="161.90" width="3.6" height="13.2" fill="#c0c0c0"/><rect x="510.88" y="161.90" width="3.6" height="13.2" fill="#c0c0c0"/><rect x="516.12" y="161.90" width="3.6" height="13.2" fill="#c0c0c0"/><rect x="521.35" y="161.90" width="3.6" height="13.2" fill="#c0c0c0"/><rect x="526.59" y="161.90" width="3.6" height="13.2" fill="#e31e24"/><rect x="531.83" y="161.90" width="3.6" height="13.2" fill="#c0c0c0"/><rect x="537.06" y="161.90" width="3.6" height="13.2" fill="#c0c0c0"/><rect x="542.30" y="161.90" width="3.6" height="13.2" fill="#c0c0c0"/><rect x="547.54" y="161.90" width="3.6" height="13.2" fill="#c0c0c0"/><rect x="552.78" y="161.90" width="3.6" height="13.2" fill="#c0c0c0"/><rect x="558.01" y="161.90" width="3.6" height="13.2" fill="#c0c0c0"/><rect x="563.25" y="161.90" width="3.6" height="13.2" fill="#c0c0c0"/><rect x="568.49" y="161.90" width="3.6" height="13.2" fill="#c0c0c0"/><rect x="573.72" y="161.90" width="3.6" height="13.2" fill="#c0c0c0"/><rect x="578.96" y="161.90" width="3.6" height="13.2" fill="#c0c0c0"/><rect x="584.20" y="161.90" width="3.6" height="13.2" fill="#c0c0c0"/><rect x="589.43" y="161.90" width="3.6" height="13.2" fill="#c0c0c0"/><rect x="594.67" y="161.90" width="3.6" height="13.2" fill="#c0c0c0"/><rect x="599.91" y="161.90" width="3.6" height="13.2" fill="#c0c0c0"/><rect x="605.14" y="161.90" width="3.6" height="13.2" fill="#e31e24"/><rect x="610.38" y="161.90" width="3.6" height="13.2" fill="#c0c0c0"/><rect x="615.62" y="161.90" width="3.6" height="13.2" fill="#c0c0c0"/><rect x="620.86" y="161.90" width="3.6" height="13.2" fill="#c0c0c0"/><rect x="626.09" y="161.90" width="3.6" height="13.2" fill="#c0c0c0"/><rect x="631.33" y="161.90" width="3.6" height="13.2" fill="#c0c0c0"/><rect x="636.57" y="161.90" width="3.6" height="13.2" fill="#c0c0c0"/><rect x="641.80" y="161.90" width="3.6" height="13.2" fill="#c0c0c0"/><rect x="647.04" y="161.90" width="3.6" height="13.2" fill="#c0c0c0"/><rect x="160.00" y="181.00" width="3.6" height="13.2" fill="#c0c0c0"/><rect x="165.24" y="181.00" width="3.6" height="13.2" fill="#c0c0c0"/><rect x="170.47" y="181.00" width="3.6" height="13.2" fill="#c0c0c0"/><rect x="175.71" y="181.00" width="3.6" height="13.2" fill="#c0c0c0"/><rect x="180.95" y="181.00" width="3.6" height="13.2" fill="#c0c0c0"/><rect x="186.19" y="181.00" width="3.6" height="13.2" fill="#c0c0c0"/><rect x="191.42" y="181.00" width="3.6" height="13.2" fill="#c0c0c0"/><rect x="196.66" y="181.00" width="3.6" height="13.2" fill="#c0c0c0"/><rect x="201.90" y="181.00" width="3.6" height="13.2" fill="#c0c0c0"/><rect x="207.13" y="181.00" width="3.6" height="13.2" fill="#c0c0c0"/><rect x="212.37" y="181.00" width="3.6" height="13.2" fill="#c0c0c0"/><rect x="217.61" y="181.00" width="3.6" height="13.2" fill="#e31e24"/><rect x="222.84" y="181.00" width="3.6" height="13.2" fill="#c0c0c0"/><rect x="228.08" y="181.00" width="3.6" height="13.2" fill="#c0c0c0"/><rect x="233.32" y="181.00" width="3.6" height="13.2" fill="#c0c0c0"/><rect x="238.56" y="181.00" width="3.6" height="13.2" fill="#c0c0c0"/><rect x="243.79" y="181.00" width="3.6" height="13.2" fill="#c0c0c0"/><rect x="249.03" y="181.00" width="3.6" height="13.2" fill="#c0c0c0"/><rect x="254.27" y="181.00" width="3.6" height="13.2" fill="#c0c0c0"/><rect x="259.50" y="181.00" width="3.6" height="13.2" fill="#c0c0c0"/><rect x="264.74" y="181.00" width="3.6" height="13.2" fill="#c0c0c0"/><rect x="269.98" y="181.00" width="3.6" height="13.2" fill="#c0c0c0"/><rect x="275.21" y="181.00" width="3.6" height="13.2" fill="#e31e24"/><rect x="280.45" y="181.00" width="3.6" height="13.2" fill="#c0c0c0"/><rect x="285.69" y="181.00" width="3.6" height="13.2" fill="#c0c0c0"/><rect x="290.93" y="181.00" width="3.6" height="13.2" fill="#c0c0c0"/><rect x="296.16" y="181.00" width="3.6" height="13.2" fill="#c0c0c0"/><rect x="301.40" y="181.00" width="3.6" height="13.2" fill="#c0c0c0"/><rect x="306.64" y="181.00" width="3.6" height="13.2" fill="#c0c0c0"/><rect x="311.87" y="181.00" width="3.6" height="13.2" fill="#c0c0c0"/><rect x="317.11" y="181.00" width="3.6" height="13.2" fill="#c0c0c0"/><rect x="322.35" y="181.00" width="3.6" height="13.2" fill="#c0c0c0"/><rect x="327.58" y="181.00" width="3.6" height="13.2" fill="#c0c0c0"/><rect x="332.82" y="181.00" width="3.6" height="13.2" fill="#c0c0c0"/><rect x="338.06" y="181.00" width="3.6" height="13.2" fill="#c0c0c0"/><rect x="343.30" y="181.00" width="3.6" height="13.2" fill="#c0c0c0"/><rect x="348.53" y="181.00" width="3.6" height="13.2" fill="#c0c0c0"/><rect x="353.77" y="181.00" width="3.6" height="13.2" fill="#c0c0c0"/><rect x="359.01" y="181.00" width="3.6" height="13.2" fill="#c0c0c0"/><rect x="364.24" y="181.00" width="3.6" height="13.2" fill="#c0c0c0"/><rect x="369.48" y="181.00" width="3.6" height="13.2" fill="#c0c0c0"/><rect x="374.72" y="181.00" width="3.6" height="13.2" fill="#c0c0c0"/><rect x="379.95" y="181.00" width="3.6" height="13.2" fill="#c0c0c0"/><rect x="385.19" y="181.00" width="3.6" height="13.2" fill="#c0c0c0"/><rect x="390.43" y="181.00" width="3.6" height="13.2" fill="#c0c0c0"/><rect x="395.66" y="181.00" width="3.6" height="13.2" fill="#c0c0c0"/><rect x="400.90" y="181.00" width="3.6" height="13.2" fill="#c0c0c0"/><rect x="406.14" y="181.00" width="3.6" height="13.2" fill="#c0c0c0"/><rect x="411.38" y="181.00" width="3.6" height="13.2" fill="#c0c0c0"/><rect x="416.61" y="181.00" width="3.6" height="13.2" fill="#c0c0c0"/><rect x="421.85" y="181.00" width="3.6" height="13.2" fill="#c0c0c0"/><rect x="427.09" y="181.00" width="3.6" height="13.2" fill="#c0c0c0"/><rect x="432.32" y="181.00" width="3.6" height="13.2" fill="#c0c0c0"/><rect x="437.56" y="181.00" width="3.6" height="13.2" fill="#c0c0c0"/><rect x="442.80" y="181.00" width="3.6" height="13.2" fill="#c0c0c0"/><rect x="448.04" y="181.00" width="3.6" height="13.2" fill="#c0c0c0"/><rect x="453.27" y="181.00" width="3.6" height="13.2" fill="#e31e24"/><rect x="458.51" y="181.00" width="3.6" height="13.2" fill="#c0c0c0"/><rect x="463.75" y="181.00" width="3.6" height="13.2" fill="#c0c0c0"/><rect x="468.98" y="181.00" width="3.6" height="13.2" fill="#c0c0c0"/><rect x="474.22" y="181.00" width="3.6" height="13.2" fill="#c0c0c0"/><rect x="479.46" y="181.00" width="3.6" height="13.2" fill="#c0c0c0"/><rect x="484.69" y="181.00" width="3.6" height="13.2" fill="#c0c0c0"/><rect x="489.93" y="181.00" width="3.6" height="13.2" fill="#c0c0c0"/><rect x="495.17" y="181.00" width="3.6" height="13.2" fill="#c0c0c0"/><rect x="500.41" y="181.00" width="3.6" height="13.2" fill="#c0c0c0"/><rect x="505.64" y="181.00" width="3.6" height="13.2" fill="#c0c0c0"/><rect x="510.88" y="181.00" width="3.6" height="13.2" fill="#c0c0c0"/><rect x="516.12" y="181.00" width="3.6" height="13.2" fill="#c0c0c0"/><rect x="521.35" y="181.00" width="3.6" height="13.2" fill="#c0c0c0"/><rect x="526.59" y="181.00" width="3.6" height="13.2" fill="#c0c0c0"/><rect x="531.83" y="181.00" width="3.6" height="13.2" fill="#e31e24"/><rect x="537.06" y="181.00" width="3.6" height="13.2" fill="#e31e24"/><rect x="542.30" y="181.00" width="3.6" height="13.2" fill="#e31e24"/><rect x="547.54" y="181.00" width="3.6" height="13.2" fill="#e31e24"/><rect x="552.78" y="181.00" width="3.6" height="13.2" fill="#c0c0c0"/><rect x="558.01" y="181.00" width="3.6" height="13.2" fill="#c0c0c0"/><rect x="563.25" y="181.00" width="3.6" height="13.2" fill="#c0c0c0"/><rect x="568.49" y="181.00" width="3.6" height="13.2" fill="#c0c0c0"/><rect x="573.72" y="181.00" width="3.6" height="13.2" fill="#c0c0c0"/><rect x="578.96" y="181.00" width="3.6" height="13.2" fill="#c0c0c0"/><rect x="584.20" y="181.00" width="3.6" height="13.2" fill="#c0c0c0"/><rect x="589.43" y="181.00" width="3.6" height="13.2" fill="#c0c0c0"/><rect x="594.67" y="181.00" width="3.6" height="13.2" fill="#c0c0c0"/><rect x="599.91" y="181.00" width="3.6" height="13.2" fill="#c0c0c0"/><rect x="605.14" y="181.00" width="3.6" height="13.2" fill="#c0c0c0"/><rect x="610.38" y="181.00" width="3.6" height="13.2" fill="#c0c0c0"/><rect x="615.62" y="181.00" width="3.6" height="13.2" fill="#c0c0c0"/><rect x="620.86" y="181.00" width="3.6" height="13.2" fill="#c0c0c0"/><rect x="626.09" y="181.00" width="3.6" height="13.2" fill="#c0c0c0"/><rect x="631.33" y="181.00" width="3.6" height="13.2" fill="#c0c0c0"/><rect x="636.57" y="181.00" width="3.6" height="13.2" fill="#e31e24"/><rect x="641.80" y="181.00" width="3.6" height="13.2" fill="#c0c0c0"/><rect x="647.04" y="181.00" width="3.6" height="13.2" fill="#c0c0c0"/><rect x="160.00" y="200.10" width="3.6" height="13.2" fill="#c0c0c0"/><rect x="165.24" y="200.10" width="3.6" height="13.2" fill="#c0c0c0"/><rect x="170.47" y="200.10" width="3.6" height="13.2" fill="#c0c0c0"/><rect x="175.71" y="200.10" width="3.6" height="13.2" fill="#c0c0c0"/><rect x="180.95" y="200.10" width="3.6" height="13.2" fill="#c0c0c0"/><rect x="186.19" y="200.10" width="3.6" height="13.2" fill="#c0c0c0"/><rect x="191.42" y="200.10" width="3.6" height="13.2" fill="#c0c0c0"/><rect x="196.66" y="200.10" width="3.6" height="13.2" fill="#c0c0c0"/><rect x="201.90" y="200.10" width="3.6" height="13.2" fill="#e31e24"/><rect x="207.13" y="200.10" width="3.6" height="13.2" fill="#c0c0c0"/><rect x="212.37" y="200.10" width="3.6" height="13.2" fill="#c0c0c0"/><rect x="217.61" y="200.10" width="3.6" height="13.2" fill="#c0c0c0"/><rect x="222.84" y="200.10" width="3.6" height="13.2" fill="#c0c0c0"/><rect x="228.08" y="200.10" width="3.6" height="13.2" fill="#c0c0c0"/><rect x="233.32" y="200.10" width="3.6" height="13.2" fill="#c0c0c0"/><rect x="238.56" y="200.10" width="3.6" height="13.2" fill="#c0c0c0"/><rect x="243.79" y="200.10" width="3.6" height="13.2" fill="#c0c0c0"/><rect x="249.03" y="200.10" width="3.6" height="13.2" fill="#c0c0c0"/><rect x="254.27" y="200.10" width="3.6" height="13.2" fill="#c0c0c0"/><rect x="259.50" y="200.10" width="3.6" height="13.2" fill="#c0c0c0"/><rect x="264.74" y="200.10" width="3.6" height="13.2" fill="#c0c0c0"/><rect x="269.98" y="200.10" width="3.6" height="13.2" fill="#c0c0c0"/><rect x="275.21" y="200.10" width="3.6" height="13.2" fill="#c0c0c0"/><rect x="280.45" y="200.10" width="3.6" height="13.2" fill="#c0c0c0"/><rect x="285.69" y="200.10" width="3.6" height="13.2" fill="#c0c0c0"/><rect x="290.93" y="200.10" width="3.6" height="13.2" fill="#c0c0c0"/><rect x="296.16" y="200.10" width="3.6" height="13.2" fill="#c0c0c0"/><rect x="301.40" y="200.10" width="3.6" height="13.2" fill="#c0c0c0"/><rect x="306.64" y="200.10" width="3.6" height="13.2" fill="#c0c0c0"/><rect x="311.87" y="200.10" width="3.6" height="13.2" fill="#c0c0c0"/><rect x="317.11" y="200.10" width="3.6" height="13.2" fill="#c0c0c0"/><rect x="322.35" y="200.10" width="3.6" height="13.2" fill="#c0c0c0"/><rect x="327.58" y="200.10" width="3.6" height="13.2" fill="#c0c0c0"/><rect x="332.82" y="200.10" width="3.6" height="13.2" fill="#c0c0c0"/><rect x="338.06" y="200.10" width="3.6" height="13.2" fill="#c0c0c0"/><rect x="343.30" y="200.10" width="3.6" height="13.2" fill="#e31e24"/><rect x="348.53" y="200.10" width="3.6" height="13.2" fill="#c0c0c0"/><rect x="353.77" y="200.10" width="3.6" height="13.2" fill="#c0c0c0"/><rect x="359.01" y="200.10" width="3.6" height="13.2" fill="#c0c0c0"/><rect x="364.24" y="200.10" width="3.6" height="13.2" fill="#c0c0c0"/><rect x="369.48" y="200.10" width="3.6" height="13.2" fill="#c0c0c0"/><rect x="374.72" y="200.10" width="3.6" height="13.2" fill="#c0c0c0"/><rect x="379.95" y="200.10" width="3.6" height="13.2" fill="#c0c0c0"/><rect x="385.19" y="200.10" width="3.6" height="13.2" fill="#c0c0c0"/><rect x="390.43" y="200.10" width="3.6" height="13.2" fill="#c0c0c0"/><rect x="395.66" y="200.10" width="3.6" height="13.2" fill="#c0c0c0"/><rect x="400.90" y="200.10" width="3.6" height="13.2" fill="#c0c0c0"/><rect x="406.14" y="200.10" width="3.6" height="13.2" fill="#c0c0c0"/><rect x="411.38" y="200.10" width="3.6" height="13.2" fill="#c0c0c0"/><rect x="416.61" y="200.10" width="3.6" height="13.2" fill="#c0c0c0"/><rect x="421.85" y="200.10" width="3.6" height="13.2" fill="#c0c0c0"/><rect x="427.09" y="200.10" width="3.6" height="13.2" fill="#c0c0c0"/><rect x="432.32" y="200.10" width="3.6" height="13.2" fill="#c0c0c0"/><rect x="437.56" y="200.10" width="3.6" height="13.2" fill="#c0c0c0"/><rect x="442.80" y="200.10" width="3.6" height="13.2" fill="#c0c0c0"/><rect x="448.04" y="200.10" width="3.6" height="13.2" fill="#c0c0c0"/><rect x="453.27" y="200.10" width="3.6" height="13.2" fill="#c0c0c0"/><rect x="458.51" y="200.10" width="3.6" height="13.2" fill="#c0c0c0"/><rect x="463.75" y="200.10" width="3.6" height="13.2" fill="#c0c0c0"/><rect x="468.98" y="200.10" width="3.6" height="13.2" fill="#c0c0c0"/><rect x="474.22" y="200.10" width="3.6" height="13.2" fill="#c0c0c0"/><rect x="479.46" y="200.10" width="3.6" height="13.2" fill="#c0c0c0"/><rect x="484.69" y="200.10" width="3.6" height="13.2" fill="#c0c0c0"/><rect x="489.93" y="200.10" width="3.6" height="13.2" fill="#c0c0c0"/><rect x="495.17" y="200.10" width="3.6" height="13.2" fill="#c0c0c0"/><rect x="500.41" y="200.10" width="3.6" height="13.2" fill="#c0c0c0"/><rect x="505.64" y="200.10" width="3.6" height="13.2" fill="#c0c0c0"/><rect x="510.88" y="200.10" width="3.6" height="13.2" fill="#c0c0c0"/><rect x="516.12" y="200.10" width="3.6" height="13.2" fill="#c0c0c0"/><rect x="521.35" y="200.10" width="3.6" height="13.2" fill="#c0c0c0"/><rect x="526.59" y="200.10" width="3.6" height="13.2" fill="#c0c0c0"/><rect x="531.83" y="200.10" width="3.6" height="13.2" fill="#c0c0c0"/><rect x="537.06" y="200.10" width="3.6" height="13.2" fill="#c0c0c0"/><rect x="542.30" y="200.10" width="3.6" height="13.2" fill="#c0c0c0"/><rect x="547.54" y="200.10" width="3.6" height="13.2" fill="#c0c0c0"/><rect x="552.78" y="200.10" width="3.6" height="13.2" fill="#c0c0c0"/><rect x="558.01" y="200.10" width="3.6" height="13.2" fill="#c0c0c0"/><rect x="563.25" y="200.10" width="3.6" height="13.2" fill="#c0c0c0"/><rect x="568.49" y="200.10" width="3.6" height="13.2" fill="#c0c0c0"/><rect x="573.72" y="200.10" width="3.6" height="13.2" fill="#c0c0c0"/><rect x="578.96" y="200.10" width="3.6" height="13.2" fill="#c0c0c0"/><rect x="584.20" y="200.10" width="3.6" height="13.2" fill="#c0c0c0"/><rect x="589.43" y="200.10" width="3.6" height="13.2" fill="#c0c0c0"/><rect x="594.67" y="200.10" width="3.6" height="13.2" fill="#c0c0c0"/><rect x="599.91" y="200.10" width="3.6" height="13.2" fill="#c0c0c0"/><rect x="605.14" y="200.10" width="3.6" height="13.2" fill="#c0c0c0"/><rect x="610.38" y="200.10" width="3.6" height="13.2" fill="#c0c0c0"/><rect x="615.62" y="200.10" width="3.6" height="13.2" fill="#c0c0c0"/><rect x="620.86" y="200.10" width="3.6" height="13.2" fill="#c0c0c0"/><rect x="626.09" y="200.10" width="3.6" height="13.2" fill="#c0c0c0"/><rect x="631.33" y="200.10" width="3.6" height="13.2" fill="#c0c0c0"/><rect x="636.57" y="200.10" width="3.6" height="13.2" fill="#c0c0c0"/><rect x="641.80" y="200.10" width="3.6" height="13.2" fill="#e31e24"/><rect x="647.04" y="200.10" width="3.6" height="13.2" fill="#c0c0c0"/><rect x="160.00" y="219.20" width="3.6" height="13.2" fill="#c0c0c0"/><rect x="165.24" y="219.20" width="3.6" height="13.2" fill="#c0c0c0"/><rect x="170.47" y="219.20" width="3.6" height="13.2" fill="#c0c0c0"/><rect x="175.71" y="219.20" width="3.6" height="13.2" fill="#c0c0c0"/><rect x="180.95" y="219.20" width="3.6" height="13.2" fill="#c0c0c0"/><rect x="186.19" y="219.20" width="3.6" height="13.2" fill="#c0c0c0"/><rect x="191.42" y="219.20" width="3.6" height="13.2" fill="#c0c0c0"/><rect x="196.66" y="219.20" width="3.6" height="13.2" fill="#c0c0c0"/><rect x="201.90" y="219.20" width="3.6" height="13.2" fill="#c0c0c0"/><rect x="207.13" y="219.20" width="3.6" height="13.2" fill="#c0c0c0"/><rect x="212.37" y="219.20" width="3.6" height="13.2" fill="#c0c0c0"/><rect x="217.61" y="219.20" width="3.6" height="13.2" fill="#c0c0c0"/><rect x="222.84" y="219.20" width="3.6" height="13.2" fill="#c0c0c0"/><rect x="228.08" y="219.20" width="3.6" height="13.2" fill="#c0c0c0"/><rect x="233.32" y="219.20" width="3.6" height="13.2" fill="#c0c0c0"/><rect x="238.56" y="219.20" width="3.6" height="13.2" fill="#c0c0c0"/><rect x="243.79" y="219.20" width="3.6" height="13.2" fill="#c0c0c0"/><rect x="249.03" y="219.20" width="3.6" height="13.2" fill="#c0c0c0"/><rect x="254.27" y="219.20" width="3.6" height="13.2" fill="#c0c0c0"/><rect x="259.50" y="219.20" width="3.6" height="13.2" fill="#c0c0c0"/><rect x="264.74" y="219.20" width="3.6" height="13.2" fill="#c0c0c0"/><rect x="269.98" y="219.20" width="3.6" height="13.2" fill="#c0c0c0"/><rect x="275.21" y="219.20" width="3.6" height="13.2" fill="#c0c0c0"/><rect x="280.45" y="219.20" width="3.6" height="13.2" fill="#c0c0c0"/><rect x="285.69" y="219.20" width="3.6" height="13.2" fill="#c0c0c0"/><rect x="290.93" y="219.20" width="3.6" height="13.2" fill="#c0c0c0"/><rect x="296.16" y="219.20" width="3.6" height="13.2" fill="#c0c0c0"/><rect x="301.40" y="219.20" width="3.6" height="13.2" fill="#c0c0c0"/><rect x="306.64" y="219.20" width="3.6" height="13.2" fill="#c0c0c0"/><rect x="311.87" y="219.20" width="3.6" height="13.2" fill="#c0c0c0"/><rect x="317.11" y="219.20" width="3.6" height="13.2" fill="#c0c0c0"/><rect x="322.35" y="219.20" width="3.6" height="13.2" fill="#c0c0c0"/><rect x="327.58" y="219.20" width="3.6" height="13.2" fill="#c0c0c0"/><rect x="332.82" y="219.20" width="3.6" height="13.2" fill="#c0c0c0"/><rect x="338.06" y="219.20" width="3.6" height="13.2" fill="#c0c0c0"/><rect x="343.30" y="219.20" width="3.6" height="13.2" fill="#c0c0c0"/><rect x="348.53" y="219.20" width="3.6" height="13.2" fill="#c0c0c0"/><rect x="353.77" y="219.20" width="3.6" height="13.2" fill="#c0c0c0"/><rect x="359.01" y="219.20" width="3.6" height="13.2" fill="#c0c0c0"/><rect x="364.24" y="219.20" width="3.6" height="13.2" fill="#c0c0c0"/><rect x="369.48" y="219.20" width="3.6" height="13.2" fill="#c0c0c0"/><rect x="374.72" y="219.20" width="3.6" height="13.2" fill="#c0c0c0"/><rect x="379.95" y="219.20" width="3.6" height="13.2" fill="#c0c0c0"/><rect x="385.19" y="219.20" width="3.6" height="13.2" fill="#c0c0c0"/><rect x="390.43" y="219.20" width="3.6" height="13.2" fill="#c0c0c0"/><rect x="395.66" y="219.20" width="3.6" height="13.2" fill="#c0c0c0"/><rect x="400.90" y="219.20" width="3.6" height="13.2" fill="#c0c0c0"/><rect x="406.14" y="219.20" width="3.6" height="13.2" fill="#c0c0c0"/><rect x="411.38" y="219.20" width="3.6" height="13.2" fill="#c0c0c0"/><rect x="416.61" y="219.20" width="3.6" height="13.2" fill="#c0c0c0"/><rect x="421.85" y="219.20" width="3.6" height="13.2" fill="#c0c0c0"/><rect x="427.09" y="219.20" width="3.6" height="13.2" fill="#c0c0c0"/><rect x="432.32" y="219.20" width="3.6" height="13.2" fill="#c0c0c0"/><rect x="437.56" y="219.20" width="3.6" height="13.2" fill="#c0c0c0"/><rect x="442.80" y="219.20" width="3.6" height="13.2" fill="#c0c0c0"/><rect x="448.04" y="219.20" width="3.6" height="13.2" fill="#c0c0c0"/><rect x="453.27" y="219.20" width="3.6" height="13.2" fill="#c0c0c0"/><rect x="458.51" y="219.20" width="3.6" height="13.2" fill="#c0c0c0"/><rect x="463.75" y="219.20" width="3.6" height="13.2" fill="#c0c0c0"/><rect x="468.98" y="219.20" width="3.6" height="13.2" fill="#c0c0c0"/><rect x="474.22" y="219.20" width="3.6" height="13.2" fill="#c0c0c0"/><rect x="479.46" y="219.20" width="3.6" height="13.2" fill="#c0c0c0"/><rect x="484.69" y="219.20" width="3.6" height="13.2" fill="#c0c0c0"/><rect x="489.93" y="219.20" width="3.6" height="13.2" fill="#c0c0c0"/><rect x="495.17" y="219.20" width="3.6" height="13.2" fill="#c0c0c0"/><rect x="500.41" y="219.20" width="3.6" height="13.2" fill="#c0c0c0"/><rect x="505.64" y="219.20" width="3.6" height="13.2" fill="#c0c0c0"/><rect x="510.88" y="219.20" width="3.6" height="13.2" fill="#c0c0c0"/><rect x="516.12" y="219.20" width="3.6" height="13.2" fill="#c0c0c0"/><rect x="521.35" y="219.20" width="3.6" height="13.2" fill="#c0c0c0"/><rect x="526.59" y="219.20" width="3.6" height="13.2" fill="#c0c0c0"/><rect x="531.83" y="219.20" width="3.6" height="13.2" fill="#c0c0c0"/><rect x="537.06" y="219.20" width="3.6" height="13.2" fill="#c0c0c0"/><rect x="542.30" y="219.20" width="3.6" height="13.2" fill="#c0c0c0"/><rect x="547.54" y="219.20" width="3.6" height="13.2" fill="#c0c0c0"/><rect x="552.78" y="219.20" width="3.6" height="13.2" fill="#c0c0c0"/><rect x="558.01" y="219.20" width="3.6" height="13.2" fill="#c0c0c0"/><rect x="563.25" y="219.20" width="3.6" height="13.2" fill="#c0c0c0"/><rect x="568.49" y="219.20" width="3.6" height="13.2" fill="#c0c0c0"/><rect x="573.72" y="219.20" width="3.6" height="13.2" fill="#c0c0c0"/><rect x="578.96" y="219.20" width="3.6" height="13.2" fill="#c0c0c0"/><rect x="584.20" y="219.20" width="3.6" height="13.2" fill="#c0c0c0"/><rect x="589.43" y="219.20" width="3.6" height="13.2" fill="#c0c0c0"/><rect x="594.67" y="219.20" width="3.6" height="13.2" fill="#c0c0c0"/><rect x="599.91" y="219.20" width="3.6" height="13.2" fill="#c0c0c0"/><rect x="605.14" y="219.20" width="3.6" height="13.2" fill="#c0c0c0"/><rect x="610.38" y="219.20" width="3.6" height="13.2" fill="#c0c0c0"/><rect x="615.62" y="219.20" width="3.6" height="13.2" fill="#c0c0c0"/><rect x="620.86" y="219.20" width="3.6" height="13.2" fill="#c0c0c0"/><rect x="626.09" y="219.20" width="3.6" height="13.2" fill="#c0c0c0"/><rect x="631.33" y="219.20" width="3.6" height="13.2" fill="#c0c0c0"/><rect x="636.57" y="219.20" width="3.6" height="13.2" fill="#c0c0c0"/><rect x="641.80" y="219.20" width="3.6" height="13.2" fill="#c0c0c0"/><rect x="647.04" y="219.20" width="3.6" height="13.2" fill="#e31e24"/><rect x="160.00" y="238.50" width="3.6" height="13.2" fill="#c0c0c0"/><rect x="165.24" y="238.50" width="3.6" height="13.2" fill="#c0c0c0"/><rect x="170.47" y="238.50" width="3.6" height="13.2" fill="#c0c0c0"/><rect x="175.71" y="238.50" width="3.6" height="13.2" fill="#c0c0c0"/><rect x="180.95" y="238.50" width="3.6" height="13.2" fill="#c0c0c0"/><rect x="186.19" y="238.50" width="3.6" height="13.2" fill="#c0c0c0"/><rect x="191.42" y="238.50" width="3.6" height="13.2" fill="#c0c0c0"/><rect x="196.66" y="238.50" width="3.6" height="13.2" fill="#c0c0c0"/><rect x="201.90" y="238.50" width="3.6" height="13.2" fill="#c0c0c0"/><rect x="207.13" y="238.50" width="3.6" height="13.2" fill="#c0c0c0"/><rect x="212.37" y="238.50" width="3.6" height="13.2" fill="#c0c0c0"/><rect x="217.61" y="238.50" width="3.6" height="13.2" fill="#c0c0c0"/><rect x="222.84" y="238.50" width="3.6" height="13.2" fill="#c0c0c0"/><rect x="228.08" y="238.50" width="3.6" height="13.2" fill="#c0c0c0"/><rect x="233.32" y="238.50" width="3.6" height="13.2" fill="#c0c0c0"/><rect x="238.56" y="238.50" width="3.6" height="13.2" fill="#c0c0c0"/><rect x="243.79" y="238.50" width="3.6" height="13.2" fill="#c0c0c0"/><rect x="249.03" y="238.50" width="3.6" height="13.2" fill="#c0c0c0"/><rect x="254.27" y="238.50" width="3.6" height="13.2" fill="#c0c0c0"/><rect x="259.50" y="238.50" width="3.6" height="13.2" fill="#c0c0c0"/><rect x="264.74" y="238.50" width="3.6" height="13.2" fill="#c0c0c0"/><rect x="269.98" y="238.50" width="3.6" height="13.2" fill="#c0c0c0"/><rect x="275.21" y="238.50" width="3.6" height="13.2" fill="#c0c0c0"/><rect x="280.45" y="238.50" width="3.6" height="13.2" fill="#c0c0c0"/><rect x="285.69" y="238.50" width="3.6" height="13.2" fill="#c0c0c0"/><rect x="290.93" y="238.50" width="3.6" height="13.2" fill="#c0c0c0"/><rect x="296.16" y="238.50" width="3.6" height="13.2" fill="#c0c0c0"/><rect x="301.40" y="238.50" width="3.6" height="13.2" fill="#c0c0c0"/><rect x="306.64" y="238.50" width="3.6" height="13.2" fill="#c0c0c0"/><rect x="311.87" y="238.50" width="3.6" height="13.2" fill="#c0c0c0"/><rect x="317.11" y="238.50" width="3.6" height="13.2" fill="#c0c0c0"/><rect x="322.35" y="238.50" width="3.6" height="13.2" fill="#c0c0c0"/><rect x="327.58" y="238.50" width="3.6" height="13.2" fill="#c0c0c0"/><rect x="332.82" y="238.50" width="3.6" height="13.2" fill="#c0c0c0"/><rect x="338.06" y="238.50" width="3.6" height="13.2" fill="#c0c0c0"/><rect x="343.30" y="238.50" width="3.6" height="13.2" fill="#c0c0c0"/><rect x="348.53" y="238.50" width="3.6" height="13.2" fill="#c0c0c0"/><rect x="353.77" y="238.50" width="3.6" height="13.2" fill="#c0c0c0"/><rect x="359.01" y="238.50" width="3.6" height="13.2" fill="#c0c0c0"/><rect x="364.24" y="238.50" width="3.6" height="13.2" fill="#c0c0c0"/><rect x="369.48" y="238.50" width="3.6" height="13.2" fill="#c0c0c0"/><rect x="374.72" y="238.50" width="3.6" height="13.2" fill="#c0c0c0"/><rect x="379.95" y="238.50" width="3.6" height="13.2" fill="#c0c0c0"/><rect x="385.19" y="238.50" width="3.6" height="13.2" fill="#c0c0c0"/><rect x="390.43" y="238.50" width="3.6" height="13.2" fill="#c0c0c0"/><rect x="395.66" y="238.50" width="3.6" height="13.2" fill="#c0c0c0"/><rect x="400.90" y="238.50" width="3.6" height="13.2" fill="#c0c0c0"/><rect x="406.14" y="238.50" width="3.6" height="13.2" fill="#c0c0c0"/><rect x="411.38" y="238.50" width="3.6" height="13.2" fill="#c0c0c0"/><rect x="416.61" y="238.50" width="3.6" height="13.2" fill="#c0c0c0"/><rect x="421.85" y="238.50" width="3.6" height="13.2" fill="#c0c0c0"/><rect x="427.09" y="238.50" width="3.6" height="13.2" fill="#c0c0c0"/><rect x="432.32" y="238.50" width="3.6" height="13.2" fill="#c0c0c0"/><rect x="437.56" y="238.50" width="3.6" height="13.2" fill="#c0c0c0"/><rect x="442.80" y="238.50" width="3.6" height="13.2" fill="#c0c0c0"/><rect x="448.04" y="238.50" width="3.6" height="13.2" fill="#c0c0c0"/><rect x="453.27" y="238.50" width="3.6" height="13.2" fill="#e31e24"/><rect x="458.51" y="238.50" width="3.6" height="13.2" fill="#c0c0c0"/><rect x="463.75" y="238.50" width="3.6" height="13.2" fill="#c0c0c0"/><rect x="468.98" y="238.50" width="3.6" height="13.2" fill="#c0c0c0"/><rect x="474.22" y="238.50" width="3.6" height="13.2" fill="#c0c0c0"/><rect x="479.46" y="238.50" width="3.6" height="13.2" fill="#c0c0c0"/><rect x="484.69" y="238.50" width="3.6" height="13.2" fill="#c0c0c0"/><rect x="489.93" y="238.50" width="3.6" height="13.2" fill="#c0c0c0"/><rect x="495.17" y="238.50" width="3.6" height="13.2" fill="#c0c0c0"/><rect x="500.41" y="238.50" width="3.6" height="13.2" fill="#c0c0c0"/><rect x="505.64" y="238.50" width="3.6" height="13.2" fill="#c0c0c0"/><rect x="510.88" y="238.50" width="3.6" height="13.2" fill="#c0c0c0"/><rect x="516.12" y="238.50" width="3.6" height="13.2" fill="#c0c0c0"/><rect x="521.35" y="238.50" width="3.6" height="13.2" fill="#c0c0c0"/><rect x="526.59" y="238.50" width="3.6" height="13.2" fill="#c0c0c0"/><rect x="531.83" y="238.50" width="3.6" height="13.2" fill="#c0c0c0"/><rect x="537.06" y="238.50" width="3.6" height="13.2" fill="#c0c0c0"/><rect x="542.30" y="238.50" width="3.6" height="13.2" fill="#c0c0c0"/><rect x="547.54" y="238.50" width="3.6" height="13.2" fill="#c0c0c0"/><rect x="552.78" y="238.50" width="3.6" height="13.2" fill="#c0c0c0"/><rect x="558.01" y="238.50" width="3.6" height="13.2" fill="#c0c0c0"/><rect x="563.25" y="238.50" width="3.6" height="13.2" fill="#c0c0c0"/><rect x="568.49" y="238.50" width="3.6" height="13.2" fill="#c0c0c0"/><rect x="573.72" y="238.50" width="3.6" height="13.2" fill="#c0c0c0"/><rect x="578.96" y="238.50" width="3.6" height="13.2" fill="#c0c0c0"/><rect x="584.20" y="238.50" width="3.6" height="13.2" fill="#c0c0c0"/><rect x="589.43" y="238.50" width="3.6" height="13.2" fill="#c0c0c0"/><rect x="594.67" y="238.50" width="3.6" height="13.2" fill="#c0c0c0"/><rect x="599.91" y="238.50" width="3.6" height="13.2" fill="#c0c0c0"/><rect x="605.14" y="238.50" width="3.6" height="13.2" fill="#c0c0c0"/><rect x="610.38" y="238.50" width="3.6" height="13.2" fill="#c0c0c0"/><rect x="615.62" y="238.50" width="3.6" height="13.2" fill="#c0c0c0"/><rect x="620.86" y="238.50" width="3.6" height="13.2" fill="#c0c0c0"/><rect x="626.09" y="238.50" width="3.6" height="13.2" fill="#c0c0c0"/><rect x="631.33" y="238.50" width="3.6" height="13.2" fill="#c0c0c0"/><rect x="636.57" y="238.50" width="3.6" height="13.2" fill="#c0c0c0"/><rect x="641.80" y="238.50" width="3.6" height="13.2" fill="#c0c0c0"/><rect x="647.04" y="238.50" width="3.6" height="13.2" fill="#c0c0c0"/></g>
<text x="29.00" y="9.80" font-size="11" text-anchor="start" font-weight="normal" fill="#1a1a1a" stroke="#1a1a1a" stroke-width="0.25">a</text>
<text x="115.50" y="5.90" font-size="7.9" text-anchor="middle" font-weight="bold" fill="#1a1a1a">Site &amp; frequency</text>
<text x="115.60" y="16.40" font-size="7.8" text-anchor="middle" font-weight="bold" fill="#1a1a1a">of metastasis</text>
<rect x="84.2" y="6.9" width="62.6" height="0.8" fill="#1a1a1a"/>
<rect x="90.6" y="17.9" width="50" height="0.85" fill="#1a1a1a"/>
<text x="392.10" y="10.90" font-size="8.1" text-anchor="middle" font-weight="bold" fill="#1a1a1a">Patient</text>
<rect x="378.5" y="12.0" width="27.2" height="0.8" fill="#1a1a1a"/>
<text x="63.90" y="32.30" font-size="6.9" text-anchor="start" font-weight="bold" fill="#1a1a1a" textLength="39.2" lengthAdjust="spacingAndGlyphs">Primary site</text>
<text x="63.90" y="51.20" font-size="6.9" text-anchor="start" font-weight="bold" fill="#1a1a1a" textLength="62.0" lengthAdjust="spacingAndGlyphs">Time of metastasis</text>
<text x="63.90" y="76.00" font-size="7.0" text-anchor="start" font-weight="bold" fill="#1a1a1a" textLength="15.5" lengthAdjust="spacingAndGlyphs">Lung</text>
<text x="138.60" y="76.00" font-size="7.0" text-anchor="start" font-weight="bold" fill="#1a1a1a" textLength="13.4" lengthAdjust="spacingAndGlyphs">49%</text>
<text x="63.90" y="95.30" font-size="7.0" text-anchor="start" font-weight="bold" fill="#1a1a1a" textLength="15.8" lengthAdjust="spacingAndGlyphs">Liver</text>
<text x="138.60" y="95.30" font-size="7.0" text-anchor="start" font-weight="bold" fill="#1a1a1a" textLength="13.4" lengthAdjust="spacingAndGlyphs">39%</text>
<text x="63.90" y="114.40" font-size="7.0" text-anchor="start" font-weight="bold" fill="#1a1a1a" textLength="40.8" lengthAdjust="spacingAndGlyphs">Lymph node</text>
<text x="138.60" y="114.40" font-size="7.0" text-anchor="start" font-weight="bold" fill="#1a1a1a" textLength="13.4" lengthAdjust="spacingAndGlyphs">37%</text>
<text x="63.90" y="133.70" font-size="7.0" text-anchor="start" font-weight="bold" fill="#1a1a1a" textLength="63.5" lengthAdjust="spacingAndGlyphs">Peritoneum/Pleura</text>
<text x="138.60" y="133.70" font-size="7.0" text-anchor="start" font-weight="bold" fill="#1a1a1a" textLength="13.4" lengthAdjust="spacingAndGlyphs">22%</text>
<text x="63.90" y="153.00" font-size="7.0" text-anchor="start" font-weight="bold" fill="#1a1a1a" textLength="17.0" lengthAdjust="spacingAndGlyphs">Bone</text>
<text x="138.60" y="153.00" font-size="7.0" text-anchor="start" font-weight="bold" fill="#1a1a1a" textLength="13.4" lengthAdjust="spacingAndGlyphs">21%</text>
<text x="63.90" y="172.10" font-size="7.0" text-anchor="start" font-weight="bold" fill="#1a1a1a" textLength="22.1" lengthAdjust="spacingAndGlyphs">Spleen</text>
<text x="138.60" y="172.10" font-size="7.0" text-anchor="start" font-weight="bold" fill="#1a1a1a" textLength="13.4" lengthAdjust="spacingAndGlyphs">13%</text>
<text x="63.90" y="191.20" font-size="7.0" text-anchor="start" font-weight="bold" fill="#1a1a1a" textLength="34.3" lengthAdjust="spacingAndGlyphs">Soft tissue</text>
<text x="138.60" y="191.20" font-size="7.0" text-anchor="start" font-weight="bold" fill="#1a1a1a" textLength="9.3" lengthAdjust="spacingAndGlyphs">9%</text>
<text x="63.90" y="210.30" font-size="7.0" text-anchor="start" font-weight="bold" fill="#1a1a1a" textLength="17.2" lengthAdjust="spacingAndGlyphs">Brain</text>
<text x="138.60" y="210.30" font-size="7.0" text-anchor="start" font-weight="bold" fill="#1a1a1a" textLength="9.4" lengthAdjust="spacingAndGlyphs">3%</text>
<text x="63.90" y="229.40" font-size="7.0" text-anchor="start" font-weight="bold" fill="#1a1a1a" textLength="20.5" lengthAdjust="spacingAndGlyphs">Bowel</text>
<text x="138.60" y="229.40" font-size="7.0" text-anchor="start" font-weight="bold" fill="#1a1a1a" textLength="15.1" lengthAdjust="spacingAndGlyphs">1.1%</text>
<text x="63.90" y="248.70" font-size="7.0" text-anchor="start" font-weight="bold" fill="#1a1a1a" textLength="19.5" lengthAdjust="spacingAndGlyphs">Ovary</text>
<text x="138.60" y="248.70" font-size="7.0" text-anchor="start" font-weight="bold" fill="#1a1a1a" textLength="15.1" lengthAdjust="spacingAndGlyphs">1.1%</text>
<rect x="180.8" y="260.0" width="3.3" height="11.7" fill="#e31e24"/>
<text x="186.80" y="269.00" font-size="6.95" text-anchor="start" font-weight="normal" fill="#1a1a1a" stroke="#1a1a1a" stroke-width="0.25" textLength="58.6" lengthAdjust="spacingAndGlyphs">Metastasis present</text>
<rect x="180.8" y="276.7" width="3.3" height="11.7" fill="#c0c0c0"/>
<text x="186.80" y="284.50" font-size="6.95" text-anchor="start" font-weight="normal" fill="#1a1a1a" stroke="#1a1a1a" stroke-width="0.25" textLength="56.0" lengthAdjust="spacingAndGlyphs">Metastasis absent</text>
<rect x="282.0" y="260.0" width="3.3" height="11.7" fill="#2f5da9"/>
<text x="288.60" y="269.00" font-size="6.95" text-anchor="start" font-weight="normal" fill="#1a1a1a" stroke="#1a1a1a" stroke-width="0.25" textLength="39.6" lengthAdjust="spacingAndGlyphs">Head &amp; neck</text>
<rect x="282.0" y="276.7" width="3.3" height="11.7" fill="#f7941d"/>
<text x="288.60" y="284.50" font-size="6.95" text-anchor="start" font-weight="normal" fill="#1a1a1a" stroke="#1a1a1a" stroke-width="0.25" textLength="19.6" lengthAdjust="spacingAndGlyphs">Breast</text>
<rect x="335.2" y="260.0" width="3.3" height="11.7" fill="#00a14b"/>
<text x="341.50" y="269.00" font-size="6.95" text-anchor="start" font-weight="normal" fill="#1a1a1a" stroke="#1a1a1a" stroke-width="0.25" textLength="40.6" lengthAdjust="spacingAndGlyphs">Limb &amp; trunk</text>
<rect x="335.2" y="276.7" width="3.3" height="11.7" fill="#000000"/>
<text x="341.50" y="284.50" font-size="6.95" text-anchor="start" font-weight="normal" fill="#1a1a1a" stroke="#1a1a1a" stroke-width="0.25" textLength="21.4" lengthAdjust="spacingAndGlyphs">Others</text>
<rect x="417.6" y="260.0" width="3.3" height="11.7" fill="#808000"/>
<text x="422.90" y="269.00" font-size="6.95" text-anchor="start" font-weight="normal" fill="#1a1a1a" stroke="#1a1a1a" stroke-width="0.25" textLength="37.5" lengthAdjust="spacingAndGlyphs">At diagnosis</text>
<rect x="417.6" y="276.7" width="3.3" height="11.7" fill="#983d8e"/>
<text x="422.90" y="284.50" font-size="6.95" text-anchor="start" font-weight="normal" fill="#1a1a1a" stroke="#1a1a1a" stroke-width="0.25" textLength="31.9" lengthAdjust="spacingAndGlyphs">At relapse</text>
<text x="-0.70" y="312.00" font-size="11" text-anchor="start" font-weight="bold" fill="#1a1a1a">b</text>
<path d="M43.50 304.10V476.30H229.09" fill="none" stroke="#3a3a3a" stroke-width="1.2"/><text x="37.30" y="475.80" font-size="7" text-anchor="end" font-weight="normal" fill="#2a2a2a" stroke="#2a2a2a" stroke-width="0.1">0</text><text x="37.30" y="443.16" font-size="7" text-anchor="end" font-weight="normal" fill="#2a2a2a" stroke="#2a2a2a" stroke-width="0.1">20</text><text x="37.30" y="410.52" font-size="7" text-anchor="end" font-weight="normal" fill="#2a2a2a" stroke="#2a2a2a" stroke-width="0.1">40</text><text x="37.30" y="377.88" font-size="7" text-anchor="end" font-weight="normal" fill="#2a2a2a" stroke="#2a2a2a" stroke-width="0.1">60</text><text x="37.30" y="345.24" font-size="7" text-anchor="end" font-weight="normal" fill="#2a2a2a" stroke="#2a2a2a" stroke-width="0.1">80</text><text x="37.30" y="312.60" font-size="7" text-anchor="end" font-weight="normal" fill="#2a2a2a" stroke="#2a2a2a" stroke-width="0.1">100</text><text x="47.40" y="489.20" font-size="7" text-anchor="middle" font-weight="normal" fill="#2a2a2a" stroke="#2a2a2a" stroke-width="0.1">0</text><text x="72.46" y="489.20" font-size="7" text-anchor="middle" font-weight="normal" fill="#2a2a2a" stroke="#2a2a2a" stroke-width="0.1">2</text><text x="97.52" y="489.20" font-size="7" text-anchor="middle" font-weight="normal" fill="#2a2a2a" stroke="#2a2a2a" stroke-width="0.1">4</text><text x="122.58" y="489.20" font-size="7" text-anchor="middle" font-weight="normal" fill="#2a2a2a" stroke="#2a2a2a" stroke-width="0.1">6</text><text x="147.64" y="489.20" font-size="7" text-anchor="middle" font-weight="normal" fill="#2a2a2a" stroke="#2a2a2a" stroke-width="0.1">8</text><text x="172.70" y="489.20" font-size="7" text-anchor="middle" font-weight="normal" fill="#2a2a2a" stroke="#2a2a2a" stroke-width="0.1">10</text><text x="197.76" y="489.20" font-size="7" text-anchor="middle" font-weight="normal" fill="#2a2a2a" stroke="#2a2a2a" stroke-width="0.1">12</text><text x="222.82" y="489.20" font-size="7" text-anchor="middle" font-weight="normal" fill="#2a2a2a" stroke="#2a2a2a" stroke-width="0.1">14</text><path d="M39.20 473.30H43.50M41.40 456.98H43.50M39.20 440.66H43.50M41.40 424.34H43.50M39.20 408.02H43.50M41.40 391.70H43.50M39.20 375.38H43.50M41.40 359.06H43.50M39.20 342.74H43.50M41.40 326.42H43.50M39.20 310.10H43.50M47.40 476.30V480.70M59.93 476.30V478.30M72.46 476.30V480.70M84.99 476.30V478.30M97.52 476.30V480.70M110.05 476.30V478.30M122.58 476.30V480.70M135.11 476.30V478.30M147.64 476.30V480.70M160.17 476.30V478.30M172.70 476.30V480.70M185.23 476.30V478.30M197.76 476.30V480.70M210.29 476.30V478.30M222.82 476.30V480.70" fill="none" stroke="#3a3a3a" stroke-width="0.9"/><text x="109.25" y="499.70" font-size="6.85" text-anchor="start" font-weight="normal" fill="#1a1a1a" stroke="#1a1a1a" stroke-width="0.25" textLength="37.7" lengthAdjust="spacingAndGlyphs">Time (years)</text><text x="18.50" y="413.70" font-size="6.3" text-anchor="start" font-weight="normal" fill="#1a1a1a" stroke="#1a1a1a" stroke-width="0.12" textLength="58.6" lengthAdjust="spacingAndGlyphs" transform="rotate(-90 18.50 413.70)">Overall survival (%)</text>
<path d="M271.50 303.50V475.70H457.08" fill="none" stroke="#3a3a3a" stroke-width="1.2"/><text x="265.30" y="475.20" font-size="7" text-anchor="end" font-weight="normal" fill="#2a2a2a" stroke="#2a2a2a" stroke-width="0.1">0</text><text x="265.30" y="442.56" font-size="7" text-anchor="end" font-weight="normal" fill="#2a2a2a" stroke="#2a2a2a" stroke-width="0.1">20</text><text x="265.30" y="409.92" font-size="7" text-anchor="end" font-weight="normal" fill="#2a2a2a" stroke="#2a2a2a" stroke-width="0.1">40</text><text x="265.30" y="377.28" font-size="7" text-anchor="end" font-weight="normal" fill="#2a2a2a" stroke="#2a2a2a" stroke-width="0.1">60</text><text x="265.30" y="344.64" font-size="7" text-anchor="end" font-weight="normal" fill="#2a2a2a" stroke="#2a2a2a" stroke-width="0.1">80</text><text x="265.30" y="312.00" font-size="7" text-anchor="end" font-weight="normal" fill="#2a2a2a" stroke="#2a2a2a" stroke-width="0.1">100</text><text x="275.40" y="488.60" font-size="7" text-anchor="middle" font-weight="normal" fill="#2a2a2a" stroke="#2a2a2a" stroke-width="0.1">0</text><text x="300.46" y="488.60" font-size="7" text-anchor="middle" font-weight="normal" fill="#2a2a2a" stroke="#2a2a2a" stroke-width="0.1">2</text><text x="325.52" y="488.60" font-size="7" text-anchor="middle" font-weight="normal" fill="#2a2a2a" stroke="#2a2a2a" stroke-width="0.1">4</text><text x="350.58" y="488.60" font-size="7" text-anchor="middle" font-weight="normal" fill="#2a2a2a" stroke="#2a2a2a" stroke-width="0.1">6</text><text x="375.64" y="488.60" font-size="7" text-anchor="middle" font-weight="normal" fill="#2a2a2a" stroke="#2a2a2a" stroke-width="0.1">8</text><text x="400.70" y="488.60" font-size="7" text-anchor="middle" font-weight="normal" fill="#2a2a2a" stroke="#2a2a2a" stroke-width="0.1">10</text><text x="425.76" y="488.60" font-size="7" text-anchor="middle" font-weight="normal" fill="#2a2a2a" stroke="#2a2a2a" stroke-width="0.1">12</text><text x="450.82" y="488.60" font-size="7" text-anchor="middle" font-weight="normal" fill="#2a2a2a" stroke="#2a2a2a" stroke-width="0.1">14</text><path d="M267.20 472.70H271.50M269.40 456.38H271.50M267.20 440.06H271.50M269.40 423.74H271.50M267.20 407.42H271.50M269.40 391.10H271.50M267.20 374.78H271.50M269.40 358.46H271.50M267.20 342.14H271.50M269.40 325.82H271.50M267.20 309.50H271.50M275.40 475.70V480.10M287.93 475.70V477.70M300.46 475.70V480.10M312.99 475.70V477.70M325.52 475.70V480.10M338.05 475.70V477.70M350.58 475.70V480.10M363.11 475.70V477.70M375.64 475.70V480.10M388.17 475.70V477.70M400.70 475.70V480.10M413.23 475.70V477.70M425.76 475.70V480.10M438.29 475.70V477.70M450.82 475.70V480.10" fill="none" stroke="#3a3a3a" stroke-width="0.9"/><text x="339.65" y="499.50" font-size="6.85" text-anchor="start" font-weight="normal" fill="#1a1a1a" stroke="#1a1a1a" stroke-width="0.25" textLength="37.7" lengthAdjust="spacingAndGlyphs">Time (years)</text><text x="246.80" y="415.20" font-size="6.3" text-anchor="start" font-weight="normal" fill="#1a1a1a" stroke="#1a1a1a" stroke-width="0.12" textLength="58.6" lengthAdjust="spacingAndGlyphs" transform="rotate(-90 246.80 415.20)">Overall survival (%)</text>
<path d="M498.70 303.40V475.60H684.29" fill="none" stroke="#3a3a3a" stroke-width="1.2"/><text x="492.50" y="475.10" font-size="7" text-anchor="end" font-weight="normal" fill="#2a2a2a" stroke="#2a2a2a" stroke-width="0.1">0</text><text x="492.50" y="442.46" font-size="7" text-anchor="end" font-weight="normal" fill="#2a2a2a" stroke="#2a2a2a" stroke-width="0.1">20</text><text x="492.50" y="409.82" font-size="7" text-anchor="end" font-weight="normal" fill="#2a2a2a" stroke="#2a2a2a" stroke-width="0.1">40</text><text x="492.50" y="377.18" font-size="7" text-anchor="end" font-weight="normal" fill="#2a2a2a" stroke="#2a2a2a" stroke-width="0.1">60</text><text x="492.50" y="344.54" font-size="7" text-anchor="end" font-weight="normal" fill="#2a2a2a" stroke="#2a2a2a" stroke-width="0.1">80</text><text x="492.50" y="311.90" font-size="7" text-anchor="end" font-weight="normal" fill="#2a2a2a" stroke="#2a2a2a" stroke-width="0.1">100</text><text x="502.60" y="488.50" font-size="7" text-anchor="middle" font-weight="normal" fill="#2a2a2a" stroke="#2a2a2a" stroke-width="0.1">0</text><text x="527.66" y="488.50" font-size="7" text-anchor="middle" font-weight="normal" fill="#2a2a2a" stroke="#2a2a2a" stroke-width="0.1">2</text><text x="552.72" y="488.50" font-size="7" text-anchor="middle" font-weight="normal" fill="#2a2a2a" stroke="#2a2a2a" stroke-width="0.1">4</text><text x="577.78" y="488.50" font-size="7" text-anchor="middle" font-weight="normal" fill="#2a2a2a" stroke="#2a2a2a" stroke-width="0.1">6</text><text x="602.84" y="488.50" font-size="7" text-anchor="middle" font-weight="normal" fill="#2a2a2a" stroke="#2a2a2a" stroke-width="0.1">8</text><text x="627.90" y="488.50" font-size="7" text-anchor="middle" font-weight="normal" fill="#2a2a2a" stroke="#2a2a2a" stroke-width="0.1">10</text><text x="652.96" y="488.50" font-size="7" text-anchor="middle" font-weight="normal" fill="#2a2a2a" stroke="#2a2a2a" stroke-width="0.1">12</text><text x="678.02" y="488.50" font-size="7" text-anchor="middle" font-weight="normal" fill="#2a2a2a" stroke="#2a2a2a" stroke-width="0.1">14</text><path d="M494.40 472.60H498.70M496.60 456.28H498.70M494.40 439.96H498.70M496.60 423.64H498.70M494.40 407.32H498.70M496.60 391.00H498.70M494.40 374.68H498.70M496.60 358.36H498.70M494.40 342.04H498.70M496.60 325.72H498.70M494.40 309.40H498.70M502.60 475.60V480.00M515.13 475.60V477.60M527.66 475.60V480.00M540.19 475.60V477.60M552.72 475.60V480.00M565.25 475.60V477.60M577.78 475.60V480.00M590.31 475.60V477.60M602.84 475.60V480.00M615.37 475.60V477.60M627.90 475.60V480.00M640.43 475.60V477.60M652.96 475.60V480.00M665.49 475.60V477.60M678.02 475.60V480.00" fill="none" stroke="#3a3a3a" stroke-width="0.9"/><text x="566.55" y="499.50" font-size="6.85" text-anchor="start" font-weight="normal" fill="#1a1a1a" stroke="#1a1a1a" stroke-width="0.25" textLength="37.7" lengthAdjust="spacingAndGlyphs">Time (years)</text><text x="474.80" y="413.60" font-size="6.3" text-anchor="start" font-weight="normal" fill="#1a1a1a" stroke="#1a1a1a" stroke-width="0.12" textLength="58.6" lengthAdjust="spacingAndGlyphs" transform="rotate(-90 474.80 413.60)">Overall survival (%)</text>
<path d="M42.40 509.50V681.70H227.99" fill="none" stroke="#3a3a3a" stroke-width="1.2"/><text x="36.20" y="681.20" font-size="7" text-anchor="end" font-weight="normal" fill="#2a2a2a" stroke="#2a2a2a" stroke-width="0.1">0</text><text x="36.20" y="648.56" font-size="7" text-anchor="end" font-weight="normal" fill="#2a2a2a" stroke="#2a2a2a" stroke-width="0.1">20</text><text x="36.20" y="615.92" font-size="7" text-anchor="end" font-weight="normal" fill="#2a2a2a" stroke="#2a2a2a" stroke-width="0.1">40</text><text x="36.20" y="583.28" font-size="7" text-anchor="end" font-weight="normal" fill="#2a2a2a" stroke="#2a2a2a" stroke-width="0.1">60</text><text x="36.20" y="550.64" font-size="7" text-anchor="end" font-weight="normal" fill="#2a2a2a" stroke="#2a2a2a" stroke-width="0.1">80</text><text x="36.20" y="518.00" font-size="7" text-anchor="end" font-weight="normal" fill="#2a2a2a" stroke="#2a2a2a" stroke-width="0.1">100</text><text x="46.30" y="694.60" font-size="7" text-anchor="middle" font-weight="normal" fill="#2a2a2a" stroke="#2a2a2a" stroke-width="0.1">0</text><text x="71.36" y="694.60" font-size="7" text-anchor="middle" font-weight="normal" fill="#2a2a2a" stroke="#2a2a2a" stroke-width="0.1">2</text><text x="96.42" y="694.60" font-size="7" text-anchor="middle" font-weight="normal" fill="#2a2a2a" stroke="#2a2a2a" stroke-width="0.1">4</text><text x="121.48" y="694.60" font-size="7" text-anchor="middle" font-weight="normal" fill="#2a2a2a" stroke="#2a2a2a" stroke-width="0.1">6</text><text x="146.54" y="694.60" font-size="7" text-anchor="middle" font-weight="normal" fill="#2a2a2a" stroke="#2a2a2a" stroke-width="0.1">8</text><text x="171.60" y="694.60" font-size="7" text-anchor="middle" font-weight="normal" fill="#2a2a2a" stroke="#2a2a2a" stroke-width="0.1">10</text><text x="196.66" y="694.60" font-size="7" text-anchor="middle" font-weight="normal" fill="#2a2a2a" stroke="#2a2a2a" stroke-width="0.1">12</text><text x="221.72" y="694.60" font-size="7" text-anchor="middle" font-weight="normal" fill="#2a2a2a" stroke="#2a2a2a" stroke-width="0.1">14</text><path d="M38.10 678.70H42.40M40.30 662.38H42.40M38.10 646.06H42.40M40.30 629.74H42.40M38.10 613.42H42.40M40.30 597.10H42.40M38.10 580.78H42.40M40.30 564.46H42.40M38.10 548.14H42.40M40.30 531.82H42.40M38.10 515.50H42.40M46.30 681.70V686.10M58.83 681.70V683.70M71.36 681.70V686.10M83.89 681.70V683.70M96.42 681.70V686.10M108.95 681.70V683.70M121.48 681.70V686.10M134.01 681.70V683.70M146.54 681.70V686.10M159.07 681.70V683.70M171.60 681.70V686.10M184.13 681.70V683.70M196.66 681.70V686.10M209.19 681.70V683.70M221.72 681.70V686.10" fill="none" stroke="#3a3a3a" stroke-width="0.9"/><text x="109.25" y="704.30" font-size="6.85" text-anchor="start" font-weight="normal" fill="#1a1a1a" stroke="#1a1a1a" stroke-width="0.25" textLength="37.7" lengthAdjust="spacingAndGlyphs">Time (years)</text><text x="17.80" y="620.50" font-size="6.3" text-anchor="start" font-weight="normal" fill="#1a1a1a" stroke="#1a1a1a" stroke-width="0.12" textLength="58.6" lengthAdjust="spacingAndGlyphs" transform="rotate(-90 17.80 620.50)">Overall survival (%)</text>
<path d="M271.50 510.00V682.20H457.08" fill="none" stroke="#3a3a3a" stroke-width="1.2"/><text x="265.30" y="681.70" font-size="7" text-anchor="end" font-weight="normal" fill="#2a2a2a" stroke="#2a2a2a" stroke-width="0.1">0</text><text x="265.30" y="649.06" font-size="7" text-anchor="end" font-weight="normal" fill="#2a2a2a" stroke="#2a2a2a" stroke-width="0.1">20</text><text x="265.30" y="616.42" font-size="7" text-anchor="end" font-weight="normal" fill="#2a2a2a" stroke="#2a2a2a" stroke-width="0.1">40</text><text x="265.30" y="583.78" font-size="7" text-anchor="end" font-weight="normal" fill="#2a2a2a" stroke="#2a2a2a" stroke-width="0.1">60</text><text x="265.30" y="551.14" font-size="7" text-anchor="end" font-weight="normal" fill="#2a2a2a" stroke="#2a2a2a" stroke-width="0.1">80</text><text x="265.30" y="518.50" font-size="7" text-anchor="end" font-weight="normal" fill="#2a2a2a" stroke="#2a2a2a" stroke-width="0.1">100</text><text x="275.40" y="695.10" font-size="7" text-anchor="middle" font-weight="normal" fill="#2a2a2a" stroke="#2a2a2a" stroke-width="0.1">0</text><text x="300.46" y="695.10" font-size="7" text-anchor="middle" font-weight="normal" fill="#2a2a2a" stroke="#2a2a2a" stroke-width="0.1">2</text><text x="325.52" y="695.10" font-size="7" text-anchor="middle" font-weight="normal" fill="#2a2a2a" stroke="#2a2a2a" stroke-width="0.1">4</text><text x="350.58" y="695.10" font-size="7" text-anchor="middle" font-weight="normal" fill="#2a2a2a" stroke="#2a2a2a" stroke-width="0.1">6</text><text x="375.64" y="695.10" font-size="7" text-anchor="middle" font-weight="normal" fill="#2a2a2a" stroke="#2a2a2a" stroke-width="0.1">8</text><text x="400.70" y="695.10" font-size="7" text-anchor="middle" font-weight="normal" fill="#2a2a2a" stroke="#2a2a2a" stroke-width="0.1">10</text><text x="425.76" y="695.10" font-size="7" text-anchor="middle" font-weight="normal" fill="#2a2a2a" stroke="#2a2a2a" stroke-width="0.1">12</text><text x="450.82" y="695.10" font-size="7" text-anchor="middle" font-weight="normal" fill="#2a2a2a" stroke="#2a2a2a" stroke-width="0.1">14</text><path d="M267.20 679.20H271.50M269.40 662.88H271.50M267.20 646.56H271.50M269.40 630.24H271.50M267.20 613.92H271.50M269.40 597.60H271.50M267.20 581.28H271.50M269.40 564.96H271.50M267.20 548.64H271.50M269.40 532.32H271.50M267.20 516.00H271.50M275.40 682.20V686.60M287.93 682.20V684.20M300.46 682.20V686.60M312.99 682.20V684.20M325.52 682.20V686.60M338.05 682.20V684.20M350.58 682.20V686.60M363.11 682.20V684.20M375.64 682.20V686.60M388.17 682.20V684.20M400.70 682.20V686.60M413.23 682.20V684.20M425.76 682.20V686.60M438.29 682.20V684.20M450.82 682.20V686.60" fill="none" stroke="#3a3a3a" stroke-width="0.9"/><text x="339.65" y="704.30" font-size="6.85" text-anchor="start" font-weight="normal" fill="#1a1a1a" stroke="#1a1a1a" stroke-width="0.25" textLength="37.7" lengthAdjust="spacingAndGlyphs">Time (years)</text><text x="246.80" y="622.20" font-size="6.3" text-anchor="start" font-weight="normal" fill="#1a1a1a" stroke="#1a1a1a" stroke-width="0.12" textLength="58.6" lengthAdjust="spacingAndGlyphs" transform="rotate(-90 246.80 622.20)">Overall survival (%)</text>
<path d="M498.70 509.30V681.50H684.29" fill="none" stroke="#3a3a3a" stroke-width="1.2"/><text x="492.50" y="681.00" font-size="7" text-anchor="end" font-weight="normal" fill="#2a2a2a" stroke="#2a2a2a" stroke-width="0.1">0</text><text x="492.50" y="648.36" font-size="7" text-anchor="end" font-weight="normal" fill="#2a2a2a" stroke="#2a2a2a" stroke-width="0.1">20</text><text x="492.50" y="615.72" font-size="7" text-anchor="end" font-weight="normal" fill="#2a2a2a" stroke="#2a2a2a" stroke-width="0.1">40</text><text x="492.50" y="583.08" font-size="7" text-anchor="end" font-weight="normal" fill="#2a2a2a" stroke="#2a2a2a" stroke-width="0.1">60</text><text x="492.50" y="550.44" font-size="7" text-anchor="end" font-weight="normal" fill="#2a2a2a" stroke="#2a2a2a" stroke-width="0.1">80</text><text x="492.50" y="517.80" font-size="7" text-anchor="end" font-weight="normal" fill="#2a2a2a" stroke="#2a2a2a" stroke-width="0.1">100</text><text x="502.60" y="694.40" font-size="7" text-anchor="middle" font-weight="normal" fill="#2a2a2a" stroke="#2a2a2a" stroke-width="0.1">0</text><text x="527.66" y="694.40" font-size="7" text-anchor="middle" font-weight="normal" fill="#2a2a2a" stroke="#2a2a2a" stroke-width="0.1">2</text><text x="552.72" y="694.40" font-size="7" text-anchor="middle" font-weight="normal" fill="#2a2a2a" stroke="#2a2a2a" stroke-width="0.1">4</text><text x="577.78" y="694.40" font-size="7" text-anchor="middle" font-weight="normal" fill="#2a2a2a" stroke="#2a2a2a" stroke-width="0.1">6</text><text x="602.84" y="694.40" font-size="7" text-anchor="middle" font-weight="normal" fill="#2a2a2a" stroke="#2a2a2a" stroke-width="0.1">8</text><text x="627.90" y="694.40" font-size="7" text-anchor="middle" font-weight="normal" fill="#2a2a2a" stroke="#2a2a2a" stroke-width="0.1">10</text><text x="652.96" y="694.40" font-size="7" text-anchor="middle" font-weight="normal" fill="#2a2a2a" stroke="#2a2a2a" stroke-width="0.1">12</text><text x="678.02" y="694.40" font-size="7" text-anchor="middle" font-weight="normal" fill="#2a2a2a" stroke="#2a2a2a" stroke-width="0.1">14</text><path d="M494.40 678.50H498.70M496.60 662.18H498.70M494.40 645.86H498.70M496.60 629.54H498.70M494.40 613.22H498.70M496.60 596.90H498.70M494.40 580.58H498.70M496.60 564.26H498.70M494.40 547.94H498.70M496.60 531.62H498.70M494.40 515.30H498.70M502.60 681.50V685.90M515.13 681.50V683.50M527.66 681.50V685.90M540.19 681.50V683.50M552.72 681.50V685.90M565.25 681.50V683.50M577.78 681.50V685.90M590.31 681.50V683.50M602.84 681.50V685.90M615.37 681.50V683.50M627.90 681.50V685.90M640.43 681.50V683.50M652.96 681.50V685.90M665.49 681.50V683.50M678.02 681.50V685.90" fill="none" stroke="#3a3a3a" stroke-width="0.9"/><text x="566.55" y="704.30" font-size="6.85" text-anchor="start" font-weight="normal" fill="#1a1a1a" stroke="#1a1a1a" stroke-width="0.25" textLength="37.7" lengthAdjust="spacingAndGlyphs">Time (years)</text><text x="474.80" y="620.50" font-size="6.3" text-anchor="start" font-weight="normal" fill="#1a1a1a" stroke="#1a1a1a" stroke-width="0.12" textLength="58.6" lengthAdjust="spacingAndGlyphs" transform="rotate(-90 474.80 620.50)">Overall survival (%)</text>
<text x="106.6" y="351.0" font-size="6.68" fill="#1a1a1a" stroke="#1a1a1a" stroke-width="0.25">Median OS 0.3<tspan font-style="italic"> vs </tspan>0.9 years</text>
<text x="106.60" y="359.70" font-size="6.6132" text-anchor="start" font-weight="normal" fill="#1a1a1a" stroke="#1a1a1a" stroke-width="0.25">HR 1.92 95% CI 1.15 to 3.23</text>
<text x="106.6" y="368.5" font-size="6.68" fill="#e8212b" stroke="#e8212b" stroke-width="0.25"><tspan font-style="italic">p</tspan> = 0.0132</text>
<text x="339.0" y="351.0" font-size="6.68" fill="#1a1a1a" stroke="#1a1a1a" stroke-width="0.25">Median OS 0.3<tspan font-style="italic"> vs </tspan>0.7 years</text>
<text x="339.00" y="359.70" font-size="6.6132" text-anchor="start" font-weight="normal" fill="#1a1a1a" stroke="#1a1a1a" stroke-width="0.25">HR 1.74 95% CI 1.01 to 3.02</text>
<text x="339.0" y="368.5" font-size="6.68" fill="#e8212b" stroke="#e8212b" stroke-width="0.25"><tspan font-style="italic">p</tspan> = 0.0476</text>
<text x="566.7" y="351.0" font-size="6.68" fill="#1a1a1a" stroke="#1a1a1a" stroke-width="0.25">Median OS 0.2<tspan font-style="italic"> vs </tspan>0.7 years</text>
<text x="566.70" y="359.70" font-size="6.6132" text-anchor="start" font-weight="normal" fill="#1a1a1a" stroke="#1a1a1a" stroke-width="0.25">HR 1.82 95% CI 1.02 to 3.24</text>
<text x="566.7" y="368.5" font-size="6.68" fill="#e8212b" stroke="#e8212b" stroke-width="0.25"><tspan font-style="italic">p</tspan> = 0.0411</text>
<text x="106.9" y="553.0" font-size="6.68" fill="#1a1a1a" stroke="#1a1a1a" stroke-width="0.25">Median OS 0.3<tspan font-style="italic"> vs </tspan>0.8 years</text>
<text x="106.90" y="561.70" font-size="6.6132" text-anchor="start" font-weight="normal" fill="#1a1a1a" stroke="#1a1a1a" stroke-width="0.25">HR 1.94 95% CI 1.17 to 3.21</text>
<text x="106.9" y="570.5" font-size="6.68" fill="#e8212b" stroke="#e8212b" stroke-width="0.25"><tspan font-style="italic">p</tspan> = 0.0097</text>
<text x="337.3" y="553.0" font-size="6.68" fill="#1a1a1a" stroke="#1a1a1a" stroke-width="0.25">Median OS 0.3<tspan font-style="italic"> vs </tspan>0.6 years</text>
<text x="337.30" y="561.70" font-size="6.6132" text-anchor="start" font-weight="normal" fill="#1a1a1a" stroke="#1a1a1a" stroke-width="0.25">HR 1.74 95% CI 1.00 to 3.04</text>
<text x="337.3" y="570.5" font-size="6.68" fill="#e8212b" stroke="#e8212b" stroke-width="0.25"><tspan font-style="italic">p</tspan> = 0.0500</text>
<text x="566.7" y="553.0" font-size="6.68" fill="#1a1a1a" stroke="#1a1a1a" stroke-width="0.25">Median OS 1.1<tspan font-style="italic"> vs </tspan>0.3 years</text>
<text x="566.70" y="561.70" font-size="6.6132" text-anchor="start" font-weight="normal" fill="#1a1a1a" stroke="#1a1a1a" stroke-width="0.25">HR 0.50 95% CI 0.26 to 0.97</text>
<text x="566.7" y="570.5" font-size="6.68" fill="#e8212b" stroke="#e8212b" stroke-width="0.25"><tspan font-style="italic">p</tspan> = 0.0388</text>
<text x="130.70" y="439.20" font-size="6.85" text-anchor="start" font-weight="normal" fill="#1a1a1a" stroke="#1a1a1a" stroke-width="0.25" textLength="79" lengthAdjust="spacingAndGlyphs">≤ 65 years (at metastasis)</text>
<text x="104.20" y="465.40" font-size="6.85" text-anchor="start" font-weight="normal" fill="#1a1a1a" stroke="#1a1a1a" stroke-width="0.25" textLength="78.7" lengthAdjust="spacingAndGlyphs">&gt; 65 years (at metastasis)</text>
<text x="322.70" y="447.90" font-size="6.85" text-anchor="start" font-weight="normal" fill="#1a1a1a" stroke="#1a1a1a" stroke-width="0.25" textLength="23.4" lengthAdjust="spacingAndGlyphs">ECOG 0</text>
<text x="296.50" y="470.80" font-size="6.85" text-anchor="start" font-weight="normal" fill="#1a1a1a" stroke="#1a1a1a" stroke-width="0.25" textLength="29.2" lengthAdjust="spacingAndGlyphs">ECOG 1-4</text>
<text x="528.90" y="429.30" font-size="6.85" text-anchor="start" font-weight="normal" fill="#1a1a1a" stroke="#1a1a1a" stroke-width="0.25" textLength="71.1" lengthAdjust="spacingAndGlyphs">Metastatic at diagnosis</text>
<text x="564.80" y="469.30" font-size="6.85" text-anchor="start" font-weight="normal" fill="#1a1a1a" stroke="#1a1a1a" stroke-width="0.25" textLength="64.3" lengthAdjust="spacingAndGlyphs">Metastatic at relapse</text>
<text x="73.80" y="636.20" font-size="6.85" text-anchor="start" font-weight="normal" fill="#1a1a1a" stroke="#1a1a1a" stroke-width="0.25" textLength="58.4" lengthAdjust="spacingAndGlyphs">No liver metastasis</text>
<text x="49.40" y="678.20" font-size="6.85" text-anchor="start" font-weight="normal" fill="#1a1a1a" stroke="#1a1a1a" stroke-width="0.25" textLength="49.2" lengthAdjust="spacingAndGlyphs">Liver metastasis</text>
<text x="303.80" y="634.40" font-size="6.85" text-anchor="start" font-weight="normal" fill="#1a1a1a" stroke="#1a1a1a" stroke-width="0.25" textLength="101.2" lengthAdjust="spacingAndGlyphs">No peritoneal/pleural metastasis</text>
<text x="306.00" y="675.30" font-size="6.85" text-anchor="start" font-weight="normal" fill="#1a1a1a" stroke="#1a1a1a" stroke-width="0.25" textLength="90.5" lengthAdjust="spacingAndGlyphs">Peritoneal/pleural metastasis</text>
<text x="539.50" y="610.90" font-size="6.85" text-anchor="start" font-weight="normal" fill="#1a1a1a" stroke="#1a1a1a" stroke-width="0.25" textLength="50.4" lengthAdjust="spacingAndGlyphs">Bone metastasis</text>
<text x="560.00" y="664.90" font-size="6.85" text-anchor="start" font-weight="normal" fill="#1a1a1a" stroke="#1a1a1a" stroke-width="0.25" textLength="60.8" lengthAdjust="spacingAndGlyphs">No bone metastasis</text>
<path d="M48.4 313.5V322.4H50.1V344.3H51.3V353.4H52.4V366.4H53.9V370.8H55.2V379.6H56.5V384.4H57.8V389H59V393.4H60.4V398.5H61.9V402.6H65.5V413.6H67V418.7H68.5V423.8H69.9V429.6H75V436.2H90.4V444.3H212V458.6H219.4V472.6" fill="none" stroke="#343a90" stroke-width="1.7" stroke-linejoin="miter" stroke-linecap="butt"/>
<path d="M276.5 317.5V326.3H278.2V352.6H279.4V366.4H280.4V375.2H282.8V384.1H284.1V392.5H285.3V401.9H286.7V406.3H289.2V410.7H292.8V416.5H294V422.3H295V427.4H298.7V433.3H302.3V440.6H317.6V448.6H318.8V456.6H356.3V464.7H365.1V466.3" fill="none" stroke="#343a90" stroke-width="1.7" stroke-linejoin="miter" stroke-linecap="butt"/>
<path d="M504 319.7V327.7H503.9V343.1H505.2V351.8H506.4V367.2H507.8V375.9H509.2V382.5H509.8V385.5H511.4V397.2H512.8V403.4H514.7V409.2H516.2V412.4H520.5V418.7H521.7V422.3H523V429.6H524.2V435.5H526.4V439.1H530V443.1H534.1V447.2H546.8V451.5H584.3V456.6H667V464.2H674.8V472.3" fill="none" stroke="#343a90" stroke-width="1.7" stroke-linejoin="miter" stroke-linecap="butt"/>
<path d="M47.6 526.7V544.5H49.1V563.2H50.4V578.1H51.9V582.5H52.9V590.2H54.1V594.6H56.7V606.2H57.7V609.9H59.2V613.5H60.6V616.5H64.3V625.2H65.7V628.1H66.9V634.7H67.9V642.3H73.8V646.4H89.1V651.5H90.1V655.4H101.8V660.7H209.9V669.1H217.3V678.3" fill="none" stroke="#343a90" stroke-width="1.7" stroke-linejoin="miter" stroke-linecap="butt"/>
<path d="M276.3 524.8V543.8H277.9V571.1H279.4V583.2H280.8V588H281.9V595.6H283V600.4H283.8V607H284.8V615H286.2V618.7H288.1V623H292.8V628.1H294V631.8H295.4V638.4H297.2V640.6H299.4V643.2H302.7V646.4H306.7V650H317.6V653.7H319.1V657.3H330.5V661H356.3V666H439.1V672.3H446.9V679" fill="none" stroke="#343a90" stroke-width="1.7" stroke-linejoin="miter" stroke-linecap="butt"/>
<path d="M502.6 525.5V531.4H504.2V551.1H504.9V582.2H506.4V602.6H507V609.9H508.4V612.1H509.6V617.2H510.8V626.7H512.2V636.2H514V638.4H520.1V642.7H521.3V646.4H522.4V652.2H523.8V657.3H526.4V659.5H530V663.6H545.4V667.6H557.8V671.2H583.8V675H674V678.4" fill="none" stroke="#343a90" stroke-width="1.7" stroke-linejoin="miter" stroke-linecap="butt"/>
<path d="M47.3 310.5V332.2H48.4V361.1H49.8V386.6H51V410.4H53.9V416.5H55.3V429.6H57.2V439.9H59.7V443.1H64.8V446.4H67V449.3H68.5V453H75V456.6H78.2V461H91.1V464.4H102.5V469.2H129.3V472.2" fill="none" stroke="#d0121b" stroke-width="1.7" stroke-linejoin="miter" stroke-linecap="butt"/>
<path d="M275 309.9V329.2H276.3V356.9H277.6V381H279V401.9H280.4V405.5H281.4V415.8H282.6V419.4H284.1V426.7H285.5V434H287.7V440.6H292.5V444.2H295V447.9H296.5V455.2H303V459.6H438.8V465.8H446.4V472.3" fill="none" stroke="#d0121b" stroke-width="1.7" stroke-linejoin="miter" stroke-linecap="butt"/>
<path d="M502.6 309.9V329.2H503.8V343.1H505.2V394.6H506.4V415.8H508.9V420.9H510V431.1H512.8V441.3H514V446.9H530V455.2H545.4V463.9H558.1V472.2" fill="none" stroke="#d0121b" stroke-width="1.7" stroke-linejoin="miter" stroke-linecap="butt"/>
<path d="M46.5 516V533.5H47.6V557.6H48.9V591.5H50.4V610.6H51.4V620.1H52.6V625.2H53.8V634.7H55.2V649.3H59.2V654.4H70.4V659.2H73.8V666.1H77.7V671.9H127.5V678.4" fill="none" stroke="#d0121b" stroke-width="1.7" stroke-linejoin="miter" stroke-linecap="butt"/>
<path d="M275 516.5V547.4H276V570.8H277.5V587.6H278.7V620.8H280V629.2H282.6V637.6H283.8V645.7H285.2V654.4H287.4V662.7H296.5V671.2H302.7V678.8" fill="none" stroke="#d0121b" stroke-width="1.7" stroke-linejoin="miter" stroke-linecap="butt"/>
<path d="M502.6 516V523.3H504V541.9H509.2V561.7H509.9V571.1H514V581H515V590.9H516.2V600.4H530V613.5H533.7V626.7H546.4V639.3H666.3V678.4" fill="none" stroke="#d0121b" stroke-width="1.7" stroke-linejoin="miter" stroke-linecap="butt"/>
<path d="M345.4 459.6v2.2M515.5 446.9v2.2M525.4 446.9v2.2M519.1 600.4v2.2M526.4 600.4v2.2M592.3 639.3v2.2" fill="none" stroke="#d0121b" stroke-width="0.8"/>
<path d="M117.6 443.9v2.2M137.5 443.9v2.2M573.3 451.5v2.2M593.1 456.6v2.2M136.1 660.7v2.2M344.9 661v2.2M365.3 666v2.2" fill="none" stroke="#343a90" stroke-width="0.8"/>
</svg></body></html>
